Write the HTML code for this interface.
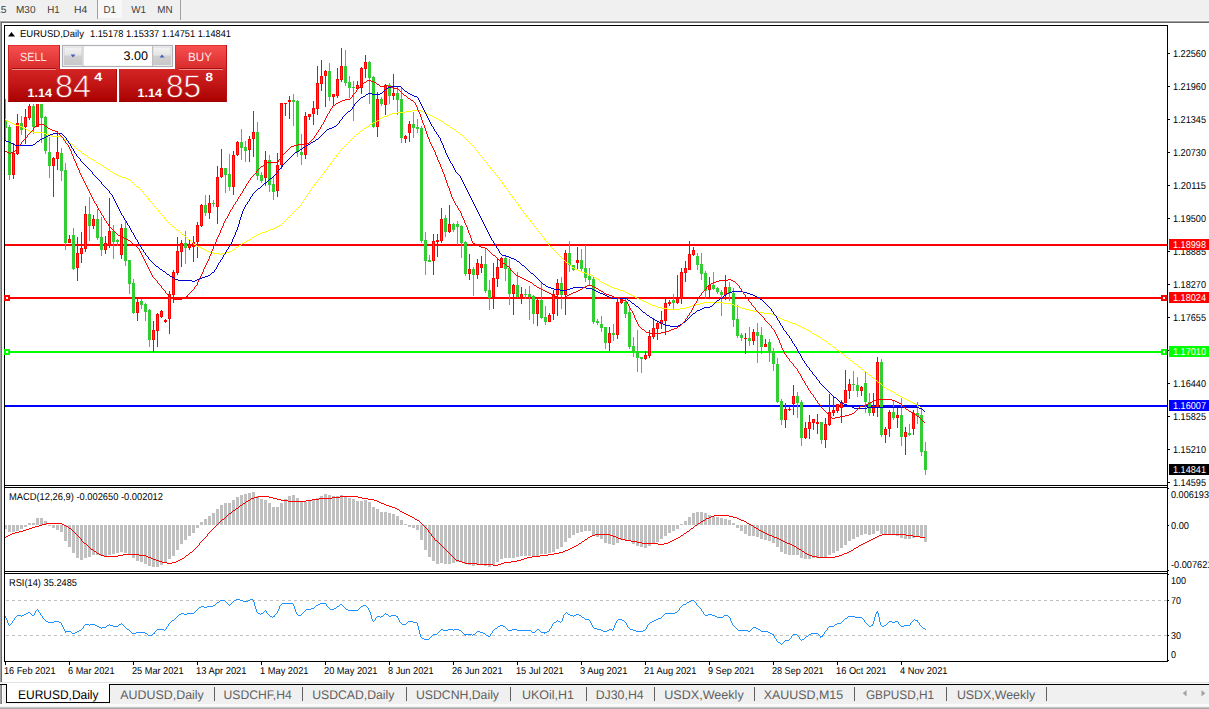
<!DOCTYPE html>
<html lang="en"><head><meta charset="utf-8"><title>EURUSD,Daily</title>
<style>
html,body{margin:0;padding:0;background:#fff;overflow:hidden}
#app{position:absolute;left:0;top:0;width:1209px;height:709px;overflow:hidden}
svg{display:block}
text{font-family:"Liberation Sans",sans-serif;white-space:pre;text-rendering:geometricPrecision}
</style></head><body>
<div id="app">
<svg width="1209" height="709" viewBox="0 0 1209 709">
<rect x="0" y="0" width="1209" height="709" fill="#fff" />
<rect x="0" y="0" width="1209" height="20" fill="#f0f0f0" />
<rect x="0" y="20" width="1209" height="1" fill="#f8f8f8" />
<rect x="0" y="21" width="1209" height="1" fill="#a0a0a0" />
<rect x="1" y="22" width="1209" height="1" fill="#696969" />
<rect x="0" y="21" width="1" height="662" fill="#a0a0a0" />
<rect x="1" y="22" width="1" height="661" fill="#696969" />
<rect x="98" y="0" width="24" height="18" fill="#f8f8f8" />
<rect x="97" y="0" width="1" height="19" fill="#a0a0a0" />
<rect x="180" y="0" width="1" height="20" fill="#a0a0a0" />
<text x="-5" y="13.4" font-size="10.2" fill="#404040" textLength="11.5" lengthAdjust="spacingAndGlyphs" >15</text>
<text x="16" y="13.4" font-size="10.2" fill="#404040" textLength="19.5" lengthAdjust="spacingAndGlyphs" >M30</text>
<text x="47.3" y="13.4" font-size="10.2" fill="#404040" textLength="12.5" lengthAdjust="spacingAndGlyphs" >H1</text>
<text x="74" y="13.4" font-size="10.2" fill="#404040" textLength="13.3" lengthAdjust="spacingAndGlyphs" >H4</text>
<text x="103.4" y="13.4" font-size="10.2" fill="#404040" textLength="12.5" lengthAdjust="spacingAndGlyphs" >D1</text>
<text x="131.3" y="13.4" font-size="10.2" fill="#404040" textLength="14.8" lengthAdjust="spacingAndGlyphs" >W1</text>
<text x="157.2" y="13.4" font-size="10.2" fill="#404040" textLength="15.3" lengthAdjust="spacingAndGlyphs" >MN</text>
<rect x="0" y="682" width="1209" height="1" fill="#e3e3e3" />
<rect x="0" y="683" width="1209" height="1" fill="#fafafa" />
<rect x="0" y="684" width="1209" height="20" fill="#f0f0f0" />
<rect x="0" y="684" width="1209" height="1" fill="#000" />
<rect x="0" y="685" width="1" height="19" fill="#a0a0a0" />
<rect x="1" y="685" width="1" height="19" fill="#808080" />
<rect x="2" y="685" width="1" height="19" fill="#fff" />
<rect x="0" y="704" width="1209" height="2" fill="#fbfbfb" />
<rect x="0" y="706" width="1209" height="1" fill="#f0f0f0" />
<rect x="0" y="707" width="1209" height="1" fill="#c8c8c8" />
<rect x="0" y="708" width="1209" height="1" fill="#a8a8a8" />
<rect x="6" y="684" width="104" height="19" fill="#000" />
<rect x="7" y="683" width="102" height="19" fill="#fff" />
<text x="18" y="698.6" font-size="12.5" fill="#000" textLength="80.5" lengthAdjust="spacingAndGlyphs" >EURUSD,Daily</text>
<text x="120.3" y="698.6" font-size="12.5" fill="#606060" textLength="83.5" lengthAdjust="spacingAndGlyphs" >AUDUSD,Daily</text>
<text x="223.5" y="698.6" font-size="12.5" fill="#606060" textLength="68.2" lengthAdjust="spacingAndGlyphs" >USDCHF,H4</text>
<text x="312.2" y="698.6" font-size="12.5" fill="#606060" textLength="82.2" lengthAdjust="spacingAndGlyphs" >USDCAD,Daily</text>
<text x="416" y="698.6" font-size="12.5" fill="#606060" textLength="83" lengthAdjust="spacingAndGlyphs" >USDCNH,Daily</text>
<text x="521.9" y="698.6" font-size="12.5" fill="#606060" textLength="52" lengthAdjust="spacingAndGlyphs" >UKOil,H1</text>
<text x="595.7" y="698.6" font-size="12.5" fill="#606060" textLength="48" lengthAdjust="spacingAndGlyphs" >DJ30,H4</text>
<text x="664.2" y="698.6" font-size="12.5" fill="#606060" textLength="79.5" lengthAdjust="spacingAndGlyphs" >USDX,Weekly</text>
<text x="763.7" y="698.6" font-size="12.5" fill="#606060" textLength="79.5" lengthAdjust="spacingAndGlyphs" >XAUUSD,M15</text>
<text x="865.9" y="698.6" font-size="12.5" fill="#606060" textLength="68.2" lengthAdjust="spacingAndGlyphs" >GBPUSD,H1</text>
<text x="956.9" y="698.6" font-size="12.5" fill="#606060" textLength="78.2" lengthAdjust="spacingAndGlyphs" >USDX,Weekly</text>
<rect x="214" y="687" width="1" height="14" fill="#606060" />
<rect x="302" y="687" width="1" height="14" fill="#606060" />
<rect x="406" y="687" width="1" height="14" fill="#606060" />
<rect x="510" y="687" width="1" height="14" fill="#606060" />
<rect x="586" y="687" width="1" height="14" fill="#606060" />
<rect x="654" y="687" width="1" height="14" fill="#606060" />
<rect x="754" y="687" width="1" height="14" fill="#606060" />
<rect x="854" y="687" width="1" height="14" fill="#606060" />
<rect x="946" y="687" width="1" height="14" fill="#606060" />
<rect x="1046" y="687" width="1" height="14" fill="#606060" />
<path d="M1186.5 690 L1186.5 696.5 L1182.8 693.2 Z" fill="#a0a0a0"/>
<path d="M1201.5 690 L1201.5 696.5 L1205.2 693.2 Z" fill="#a0a0a0"/>
<g shape-rendering="crispEdges">
<rect x="5" y="244" width="1162" height="2" fill="#ff0000" />
<rect x="5" y="297" width="1162" height="2" fill="#ff0000" />
<rect x="5" y="351" width="1162" height="2" fill="#00ff00" />
<rect x="5" y="405" width="1162" height="2" fill="#0000ff" />
<rect x="5" y="99" width="1" height="42" fill="#32cd32" />
<rect x="4" y="120" width="3" height="8" fill="#32cd32" />
<rect x="9" y="125" width="1" height="55" fill="#32cd32" />
<rect x="8" y="127" width="3" height="48" fill="#32cd32" />
<rect x="13" y="143" width="1" height="36" fill="#ff0000" />
<rect x="12" y="153" width="3" height="22" fill="#ff0000" />
<rect x="13" y="154" width="1" height="20" fill="#ff4500" />
<rect x="17" y="114" width="1" height="41" fill="#ff0000" />
<rect x="16" y="123" width="3" height="31" fill="#ff0000" />
<rect x="17" y="124" width="1" height="29" fill="#ff4500" />
<rect x="21" y="116" width="1" height="19" fill="#32cd32" />
<rect x="20" y="123" width="3" height="7" fill="#32cd32" />
<rect x="25" y="109" width="1" height="35" fill="#ff0000" />
<rect x="24" y="117" width="3" height="10" fill="#ff0000" />
<rect x="25" y="118" width="1" height="8" fill="#ff4500" />
<rect x="29" y="104" width="1" height="16" fill="#ff0000" />
<rect x="28" y="106" width="3" height="12" fill="#ff0000" />
<rect x="29" y="107" width="1" height="10" fill="#ff4500" />
<rect x="33" y="104" width="1" height="30" fill="#32cd32" />
<rect x="32" y="106" width="3" height="21" fill="#32cd32" />
<rect x="37" y="88" width="1" height="39" fill="#ff0000" />
<rect x="36" y="92" width="3" height="35" fill="#ff0000" />
<rect x="37" y="93" width="1" height="33" fill="#ff4500" />
<rect x="41" y="90" width="1" height="53" fill="#32cd32" />
<rect x="40" y="93" width="3" height="25" fill="#32cd32" />
<rect x="45" y="116" width="1" height="38" fill="#32cd32" />
<rect x="44" y="117" width="3" height="34" fill="#32cd32" />
<rect x="49" y="137" width="1" height="41" fill="#32cd32" />
<rect x="48" y="152" width="3" height="14" fill="#32cd32" />
<rect x="53" y="157" width="1" height="40" fill="#ff0000" />
<rect x="52" y="158" width="3" height="8" fill="#ff0000" />
<rect x="53" y="159" width="1" height="6" fill="#ff4500" />
<rect x="57" y="131" width="1" height="39" fill="#ff0000" />
<rect x="56" y="152" width="3" height="7" fill="#ff0000" />
<rect x="57" y="153" width="1" height="5" fill="#ff4500" />
<rect x="61" y="148" width="1" height="33" fill="#32cd32" />
<rect x="60" y="153" width="3" height="18" fill="#32cd32" />
<rect x="65" y="163" width="1" height="87" fill="#32cd32" />
<rect x="64" y="170" width="3" height="73" fill="#32cd32" />
<rect x="69" y="235" width="1" height="8" fill="#ff0000" />
<rect x="68" y="239" width="3" height="4" fill="#ff0000" />
<rect x="69" y="240" width="1" height="2" fill="#ff4500" />
<rect x="73" y="228" width="1" height="42" fill="#32cd32" />
<rect x="72" y="235" width="3" height="34" fill="#32cd32" />
<rect x="77" y="237" width="1" height="44" fill="#ff0000" />
<rect x="76" y="253" width="3" height="15" fill="#ff0000" />
<rect x="77" y="254" width="1" height="13" fill="#ff4500" />
<rect x="81" y="232" width="1" height="31" fill="#ff0000" />
<rect x="80" y="248" width="3" height="6" fill="#ff0000" />
<rect x="81" y="249" width="1" height="4" fill="#ff4500" />
<rect x="85" y="206" width="1" height="46" fill="#ff0000" />
<rect x="84" y="214" width="3" height="35" fill="#ff0000" />
<rect x="85" y="215" width="1" height="33" fill="#ff4500" />
<rect x="89" y="197" width="1" height="44" fill="#32cd32" />
<rect x="88" y="214" width="3" height="12" fill="#32cd32" />
<rect x="93" y="215" width="1" height="14" fill="#ff0000" />
<rect x="92" y="219" width="3" height="7" fill="#ff0000" />
<rect x="93" y="220" width="1" height="5" fill="#ff4500" />
<rect x="97" y="209" width="1" height="31" fill="#32cd32" />
<rect x="96" y="219" width="3" height="19" fill="#32cd32" />
<rect x="101" y="217" width="1" height="39" fill="#32cd32" />
<rect x="100" y="237" width="3" height="13" fill="#32cd32" />
<rect x="105" y="236" width="1" height="18" fill="#ff0000" />
<rect x="104" y="243" width="3" height="7" fill="#ff0000" />
<rect x="105" y="244" width="1" height="5" fill="#ff4500" />
<rect x="109" y="198" width="1" height="50" fill="#ff0000" />
<rect x="108" y="231" width="3" height="15" fill="#ff0000" />
<rect x="109" y="232" width="1" height="13" fill="#ff4500" />
<rect x="113" y="225" width="1" height="34" fill="#32cd32" />
<rect x="112" y="231" width="3" height="11" fill="#32cd32" />
<rect x="117" y="239" width="1" height="7" fill="#32cd32" />
<rect x="116" y="240" width="3" height="2" fill="#32cd32" />
<rect x="121" y="224" width="1" height="35" fill="#ff0000" />
<rect x="120" y="228" width="3" height="27" fill="#ff0000" />
<rect x="121" y="229" width="1" height="25" fill="#ff4500" />
<rect x="125" y="220" width="1" height="46" fill="#32cd32" />
<rect x="124" y="228" width="3" height="33" fill="#32cd32" />
<rect x="129" y="260" width="1" height="34" fill="#32cd32" />
<rect x="128" y="260" width="3" height="24" fill="#32cd32" />
<rect x="133" y="279" width="1" height="35" fill="#32cd32" />
<rect x="132" y="283" width="3" height="30" fill="#32cd32" />
<rect x="137" y="299" width="1" height="22" fill="#ff0000" />
<rect x="136" y="302" width="3" height="11" fill="#ff0000" />
<rect x="137" y="303" width="1" height="9" fill="#ff4500" />
<rect x="141" y="299" width="1" height="10" fill="#32cd32" />
<rect x="140" y="301" width="3" height="4" fill="#32cd32" />
<rect x="145" y="303" width="1" height="18" fill="#32cd32" />
<rect x="144" y="304" width="3" height="8" fill="#32cd32" />
<rect x="149" y="309" width="1" height="38" fill="#32cd32" />
<rect x="148" y="310" width="3" height="30" fill="#32cd32" />
<rect x="153" y="321" width="1" height="31" fill="#ff0000" />
<rect x="152" y="330" width="3" height="10" fill="#ff0000" />
<rect x="153" y="331" width="1" height="8" fill="#ff4500" />
<rect x="157" y="313" width="1" height="34" fill="#ff0000" />
<rect x="156" y="314" width="3" height="17" fill="#ff0000" />
<rect x="157" y="315" width="1" height="15" fill="#ff4500" />
<rect x="161" y="310" width="1" height="8" fill="#ff0000" />
<rect x="160" y="311" width="3" height="6" fill="#ff0000" />
<rect x="161" y="312" width="1" height="4" fill="#ff4500" />
<rect x="165" y="319" width="1" height="4" fill="#ff0000" />
<rect x="164" y="320" width="3" height="2" fill="#ff0000" />
<rect x="169" y="291" width="1" height="43" fill="#ff0000" />
<rect x="168" y="294" width="3" height="25" fill="#ff0000" />
<rect x="169" y="295" width="1" height="23" fill="#ff4500" />
<rect x="173" y="270" width="1" height="33" fill="#ff0000" />
<rect x="172" y="272" width="3" height="23" fill="#ff0000" />
<rect x="173" y="273" width="1" height="21" fill="#ff4500" />
<rect x="177" y="237" width="1" height="38" fill="#ff0000" />
<rect x="176" y="251" width="3" height="22" fill="#ff0000" />
<rect x="177" y="252" width="1" height="20" fill="#ff4500" />
<rect x="181" y="240" width="1" height="27" fill="#ff0000" />
<rect x="180" y="243" width="3" height="9" fill="#ff0000" />
<rect x="181" y="244" width="1" height="7" fill="#ff4500" />
<rect x="185" y="231" width="1" height="33" fill="#32cd32" />
<rect x="184" y="243" width="3" height="5" fill="#32cd32" />
<rect x="189" y="240" width="1" height="10" fill="#ff0000" />
<rect x="188" y="244" width="3" height="4" fill="#ff0000" />
<rect x="189" y="245" width="1" height="2" fill="#ff4500" />
<rect x="193" y="236" width="1" height="26" fill="#ff0000" />
<rect x="192" y="242" width="3" height="5" fill="#ff0000" />
<rect x="193" y="243" width="1" height="3" fill="#ff4500" />
<rect x="197" y="222" width="1" height="36" fill="#ff0000" />
<rect x="196" y="225" width="3" height="17" fill="#ff0000" />
<rect x="197" y="226" width="1" height="15" fill="#ff4500" />
<rect x="201" y="204" width="1" height="23" fill="#ff0000" />
<rect x="200" y="205" width="3" height="21" fill="#ff0000" />
<rect x="201" y="206" width="1" height="19" fill="#ff4500" />
<rect x="205" y="195" width="1" height="21" fill="#32cd32" />
<rect x="204" y="205" width="3" height="8" fill="#32cd32" />
<rect x="209" y="195" width="1" height="24" fill="#ff0000" />
<rect x="208" y="203" width="3" height="10" fill="#ff0000" />
<rect x="209" y="204" width="1" height="8" fill="#ff4500" />
<rect x="213" y="200" width="1" height="7" fill="#32cd32" />
<rect x="212" y="203" width="3" height="1" fill="#32cd32" />
<rect x="217" y="166" width="1" height="58" fill="#ff0000" />
<rect x="216" y="177" width="3" height="30" fill="#ff0000" />
<rect x="217" y="178" width="1" height="28" fill="#ff4500" />
<rect x="221" y="149" width="1" height="29" fill="#ff0000" />
<rect x="220" y="168" width="3" height="9" fill="#ff0000" />
<rect x="221" y="169" width="1" height="7" fill="#ff4500" />
<rect x="225" y="168" width="1" height="25" fill="#32cd32" />
<rect x="224" y="168" width="3" height="7" fill="#32cd32" />
<rect x="229" y="154" width="1" height="37" fill="#32cd32" />
<rect x="228" y="174" width="3" height="13" fill="#32cd32" />
<rect x="233" y="151" width="1" height="44" fill="#ff0000" />
<rect x="232" y="155" width="3" height="32" fill="#ff0000" />
<rect x="233" y="156" width="1" height="30" fill="#ff4500" />
<rect x="237" y="141" width="1" height="15" fill="#ff0000" />
<rect x="236" y="142" width="3" height="13" fill="#ff0000" />
<rect x="237" y="143" width="1" height="11" fill="#ff4500" />
<rect x="241" y="129" width="1" height="31" fill="#32cd32" />
<rect x="240" y="142" width="3" height="6" fill="#32cd32" />
<rect x="245" y="141" width="1" height="21" fill="#32cd32" />
<rect x="244" y="147" width="3" height="4" fill="#32cd32" />
<rect x="249" y="136" width="1" height="26" fill="#ff0000" />
<rect x="248" y="139" width="3" height="11" fill="#ff0000" />
<rect x="249" y="140" width="1" height="9" fill="#ff4500" />
<rect x="253" y="111" width="1" height="46" fill="#ff0000" />
<rect x="252" y="132" width="3" height="7" fill="#ff0000" />
<rect x="253" y="133" width="1" height="5" fill="#ff4500" />
<rect x="257" y="122" width="1" height="58" fill="#32cd32" />
<rect x="256" y="132" width="3" height="44" fill="#32cd32" />
<rect x="261" y="172" width="1" height="11" fill="#32cd32" />
<rect x="260" y="175" width="3" height="6" fill="#32cd32" />
<rect x="265" y="151" width="1" height="35" fill="#ff0000" />
<rect x="264" y="160" width="3" height="18" fill="#ff0000" />
<rect x="265" y="161" width="1" height="16" fill="#ff4500" />
<rect x="269" y="155" width="1" height="37" fill="#32cd32" />
<rect x="268" y="160" width="3" height="25" fill="#32cd32" />
<rect x="273" y="177" width="1" height="23" fill="#32cd32" />
<rect x="272" y="184" width="3" height="8" fill="#32cd32" />
<rect x="277" y="153" width="1" height="44" fill="#ff0000" />
<rect x="276" y="165" width="3" height="26" fill="#ff0000" />
<rect x="277" y="166" width="1" height="24" fill="#ff4500" />
<rect x="281" y="103" width="1" height="66" fill="#ff0000" />
<rect x="280" y="103" width="3" height="62" fill="#ff0000" />
<rect x="281" y="104" width="1" height="60" fill="#ff4500" />
<rect x="285" y="103" width="1" height="13" fill="#ff0000" />
<rect x="284" y="103" width="3" height="1" fill="#ff0000" />
<rect x="289" y="96" width="1" height="23" fill="#ff0000" />
<rect x="288" y="100" width="3" height="2" fill="#ff0000" />
<rect x="293" y="94" width="1" height="32" fill="#32cd32" />
<rect x="292" y="100" width="3" height="2" fill="#32cd32" />
<rect x="297" y="100" width="1" height="57" fill="#32cd32" />
<rect x="296" y="101" width="3" height="51" fill="#32cd32" />
<rect x="301" y="134" width="1" height="31" fill="#32cd32" />
<rect x="300" y="152" width="3" height="3" fill="#32cd32" />
<rect x="305" y="112" width="1" height="47" fill="#ff0000" />
<rect x="304" y="116" width="3" height="39" fill="#ff0000" />
<rect x="305" y="117" width="1" height="37" fill="#ff4500" />
<rect x="309" y="114" width="1" height="6" fill="#ff0000" />
<rect x="308" y="114" width="3" height="3" fill="#ff0000" />
<rect x="309" y="115" width="1" height="1" fill="#ff4500" />
<rect x="313" y="101" width="1" height="24" fill="#ff0000" />
<rect x="312" y="108" width="3" height="6" fill="#ff0000" />
<rect x="313" y="109" width="1" height="4" fill="#ff4500" />
<rect x="317" y="66" width="1" height="49" fill="#ff0000" />
<rect x="316" y="83" width="3" height="26" fill="#ff0000" />
<rect x="317" y="84" width="1" height="24" fill="#ff4500" />
<rect x="321" y="60" width="1" height="31" fill="#ff0000" />
<rect x="320" y="76" width="3" height="8" fill="#ff0000" />
<rect x="321" y="77" width="1" height="6" fill="#ff4500" />
<rect x="325" y="70" width="1" height="37" fill="#ff0000" />
<rect x="324" y="71" width="3" height="5" fill="#ff0000" />
<rect x="325" y="72" width="1" height="3" fill="#ff4500" />
<rect x="329" y="63" width="1" height="38" fill="#32cd32" />
<rect x="328" y="71" width="3" height="26" fill="#32cd32" />
<rect x="333" y="94" width="1" height="11" fill="#ff0000" />
<rect x="332" y="94" width="3" height="3" fill="#ff0000" />
<rect x="333" y="95" width="1" height="1" fill="#ff4500" />
<rect x="337" y="68" width="1" height="30" fill="#ff0000" />
<rect x="336" y="79" width="3" height="17" fill="#ff0000" />
<rect x="337" y="80" width="1" height="15" fill="#ff4500" />
<rect x="341" y="48" width="1" height="34" fill="#ff0000" />
<rect x="340" y="66" width="3" height="14" fill="#ff0000" />
<rect x="341" y="67" width="1" height="12" fill="#ff4500" />
<rect x="345" y="50" width="1" height="36" fill="#32cd32" />
<rect x="344" y="66" width="3" height="17" fill="#32cd32" />
<rect x="349" y="76" width="1" height="22" fill="#32cd32" />
<rect x="348" y="82" width="3" height="6" fill="#32cd32" />
<rect x="353" y="81" width="1" height="40" fill="#32cd32" />
<rect x="352" y="87" width="3" height="1" fill="#32cd32" />
<rect x="357" y="81" width="1" height="8" fill="#ff0000" />
<rect x="356" y="85" width="3" height="4" fill="#ff0000" />
<rect x="357" y="86" width="1" height="2" fill="#ff4500" />
<rect x="361" y="67" width="1" height="27" fill="#ff0000" />
<rect x="360" y="68" width="3" height="20" fill="#ff0000" />
<rect x="361" y="69" width="1" height="18" fill="#ff4500" />
<rect x="365" y="55" width="1" height="23" fill="#ff0000" />
<rect x="364" y="62" width="3" height="7" fill="#ff0000" />
<rect x="365" y="63" width="1" height="5" fill="#ff4500" />
<rect x="369" y="61" width="1" height="43" fill="#32cd32" />
<rect x="368" y="62" width="3" height="16" fill="#32cd32" />
<rect x="373" y="76" width="1" height="52" fill="#32cd32" />
<rect x="372" y="77" width="3" height="50" fill="#32cd32" />
<rect x="377" y="92" width="1" height="45" fill="#ff0000" />
<rect x="376" y="99" width="3" height="28" fill="#ff0000" />
<rect x="377" y="100" width="1" height="26" fill="#ff4500" />
<rect x="381" y="97" width="1" height="9" fill="#32cd32" />
<rect x="380" y="99" width="3" height="5" fill="#32cd32" />
<rect x="385" y="84" width="1" height="31" fill="#ff0000" />
<rect x="384" y="85" width="3" height="20" fill="#ff0000" />
<rect x="385" y="86" width="1" height="18" fill="#ff4500" />
<rect x="389" y="83" width="1" height="21" fill="#32cd32" />
<rect x="388" y="85" width="3" height="11" fill="#32cd32" />
<rect x="393" y="74" width="1" height="26" fill="#ff0000" />
<rect x="392" y="93" width="3" height="3" fill="#ff0000" />
<rect x="393" y="94" width="1" height="1" fill="#ff4500" />
<rect x="397" y="87" width="1" height="28" fill="#32cd32" />
<rect x="396" y="93" width="3" height="7" fill="#32cd32" />
<rect x="401" y="88" width="1" height="55" fill="#32cd32" />
<rect x="400" y="99" width="3" height="39" fill="#32cd32" />
<rect x="405" y="135" width="1" height="8" fill="#ff0000" />
<rect x="404" y="136" width="3" height="3" fill="#ff0000" />
<rect x="405" y="137" width="1" height="1" fill="#ff4500" />
<rect x="409" y="121" width="1" height="21" fill="#ff0000" />
<rect x="408" y="124" width="3" height="9" fill="#ff0000" />
<rect x="409" y="125" width="1" height="7" fill="#ff4500" />
<rect x="413" y="112" width="1" height="26" fill="#32cd32" />
<rect x="412" y="124" width="3" height="4" fill="#32cd32" />
<rect x="417" y="119" width="1" height="14" fill="#32cd32" />
<rect x="416" y="127" width="3" height="2" fill="#32cd32" />
<rect x="421" y="126" width="1" height="117" fill="#32cd32" />
<rect x="420" y="128" width="3" height="113" fill="#32cd32" />
<rect x="425" y="232" width="1" height="43" fill="#32cd32" />
<rect x="424" y="240" width="3" height="21" fill="#32cd32" />
<rect x="429" y="255" width="1" height="7" fill="#32cd32" />
<rect x="428" y="260" width="3" height="2" fill="#32cd32" />
<rect x="433" y="234" width="1" height="41" fill="#ff0000" />
<rect x="432" y="241" width="3" height="20" fill="#ff0000" />
<rect x="433" y="242" width="1" height="18" fill="#ff4500" />
<rect x="437" y="234" width="1" height="23" fill="#ff0000" />
<rect x="436" y="240" width="3" height="2" fill="#ff0000" />
<rect x="441" y="208" width="1" height="35" fill="#ff0000" />
<rect x="440" y="219" width="3" height="22" fill="#ff0000" />
<rect x="441" y="220" width="1" height="20" fill="#ff4500" />
<rect x="445" y="215" width="1" height="22" fill="#32cd32" />
<rect x="444" y="218" width="3" height="14" fill="#32cd32" />
<rect x="449" y="205" width="1" height="28" fill="#ff0000" />
<rect x="448" y="224" width="3" height="8" fill="#ff0000" />
<rect x="449" y="225" width="1" height="6" fill="#ff4500" />
<rect x="453" y="223" width="1" height="9" fill="#32cd32" />
<rect x="452" y="224" width="3" height="6" fill="#32cd32" />
<rect x="457" y="221" width="1" height="24" fill="#32cd32" />
<rect x="456" y="224" width="3" height="3" fill="#32cd32" />
<rect x="461" y="225" width="1" height="33" fill="#32cd32" />
<rect x="460" y="226" width="3" height="17" fill="#32cd32" />
<rect x="465" y="241" width="1" height="35" fill="#32cd32" />
<rect x="464" y="242" width="3" height="32" fill="#32cd32" />
<rect x="469" y="254" width="1" height="26" fill="#ff0000" />
<rect x="468" y="269" width="3" height="5" fill="#ff0000" />
<rect x="469" y="270" width="1" height="3" fill="#ff4500" />
<rect x="473" y="267" width="1" height="29" fill="#32cd32" />
<rect x="472" y="269" width="3" height="6" fill="#32cd32" />
<rect x="477" y="259" width="1" height="20" fill="#ff0000" />
<rect x="476" y="263" width="3" height="12" fill="#ff0000" />
<rect x="477" y="264" width="1" height="10" fill="#ff4500" />
<rect x="481" y="256" width="1" height="17" fill="#ff0000" />
<rect x="480" y="264" width="3" height="4" fill="#ff0000" />
<rect x="481" y="265" width="1" height="2" fill="#ff4500" />
<rect x="485" y="248" width="1" height="45" fill="#32cd32" />
<rect x="484" y="264" width="3" height="27" fill="#32cd32" />
<rect x="489" y="280" width="1" height="30" fill="#32cd32" />
<rect x="488" y="290" width="3" height="8" fill="#32cd32" />
<rect x="493" y="263" width="1" height="46" fill="#ff0000" />
<rect x="492" y="278" width="3" height="19" fill="#ff0000" />
<rect x="493" y="279" width="1" height="17" fill="#ff4500" />
<rect x="497" y="259" width="1" height="28" fill="#ff0000" />
<rect x="496" y="267" width="3" height="12" fill="#ff0000" />
<rect x="497" y="268" width="1" height="10" fill="#ff4500" />
<rect x="501" y="257" width="1" height="11" fill="#ff0000" />
<rect x="500" y="258" width="3" height="10" fill="#ff0000" />
<rect x="501" y="259" width="1" height="8" fill="#ff4500" />
<rect x="505" y="256" width="1" height="25" fill="#32cd32" />
<rect x="504" y="258" width="3" height="11" fill="#32cd32" />
<rect x="509" y="259" width="1" height="46" fill="#32cd32" />
<rect x="508" y="268" width="3" height="26" fill="#32cd32" />
<rect x="513" y="284" width="1" height="31" fill="#ff0000" />
<rect x="512" y="285" width="3" height="9" fill="#ff0000" />
<rect x="513" y="286" width="1" height="7" fill="#ff4500" />
<rect x="517" y="272" width="1" height="26" fill="#32cd32" />
<rect x="516" y="285" width="3" height="12" fill="#32cd32" />
<rect x="521" y="287" width="1" height="17" fill="#ff0000" />
<rect x="520" y="294" width="3" height="4" fill="#ff0000" />
<rect x="521" y="295" width="1" height="2" fill="#ff4500" />
<rect x="525" y="289" width="1" height="10" fill="#32cd32" />
<rect x="524" y="294" width="3" height="1" fill="#32cd32" />
<rect x="529" y="286" width="1" height="34" fill="#32cd32" />
<rect x="528" y="294" width="3" height="3" fill="#32cd32" />
<rect x="533" y="295" width="1" height="29" fill="#32cd32" />
<rect x="532" y="296" width="3" height="18" fill="#32cd32" />
<rect x="537" y="299" width="1" height="27" fill="#ff0000" />
<rect x="536" y="300" width="3" height="14" fill="#ff0000" />
<rect x="537" y="301" width="1" height="12" fill="#ff4500" />
<rect x="541" y="283" width="1" height="36" fill="#32cd32" />
<rect x="540" y="300" width="3" height="18" fill="#32cd32" />
<rect x="545" y="306" width="1" height="19" fill="#32cd32" />
<rect x="544" y="317" width="3" height="5" fill="#32cd32" />
<rect x="549" y="313" width="1" height="9" fill="#ff0000" />
<rect x="548" y="315" width="3" height="7" fill="#ff0000" />
<rect x="549" y="316" width="1" height="5" fill="#ff4500" />
<rect x="553" y="290" width="1" height="30" fill="#ff0000" />
<rect x="552" y="294" width="3" height="20" fill="#ff0000" />
<rect x="553" y="295" width="1" height="18" fill="#ff4500" />
<rect x="557" y="279" width="1" height="37" fill="#ff0000" />
<rect x="556" y="283" width="3" height="12" fill="#ff0000" />
<rect x="557" y="284" width="1" height="10" fill="#ff4500" />
<rect x="561" y="277" width="1" height="32" fill="#32cd32" />
<rect x="560" y="283" width="3" height="12" fill="#32cd32" />
<rect x="565" y="250" width="1" height="65" fill="#ff0000" />
<rect x="564" y="253" width="3" height="42" fill="#ff0000" />
<rect x="565" y="254" width="1" height="40" fill="#ff4500" />
<rect x="569" y="241" width="1" height="31" fill="#32cd32" />
<rect x="568" y="253" width="3" height="12" fill="#32cd32" />
<rect x="573" y="265" width="1" height="6" fill="#32cd32" />
<rect x="572" y="265" width="3" height="5" fill="#32cd32" />
<rect x="577" y="247" width="1" height="22" fill="#ff0000" />
<rect x="576" y="260" width="3" height="3" fill="#ff0000" />
<rect x="577" y="261" width="1" height="1" fill="#ff4500" />
<rect x="581" y="249" width="1" height="22" fill="#32cd32" />
<rect x="580" y="260" width="3" height="9" fill="#32cd32" />
<rect x="585" y="245" width="1" height="37" fill="#32cd32" />
<rect x="584" y="268" width="3" height="10" fill="#32cd32" />
<rect x="589" y="268" width="1" height="17" fill="#32cd32" />
<rect x="588" y="276" width="3" height="4" fill="#32cd32" />
<rect x="593" y="277" width="1" height="47" fill="#32cd32" />
<rect x="592" y="279" width="3" height="43" fill="#32cd32" />
<rect x="597" y="319" width="1" height="6" fill="#32cd32" />
<rect x="596" y="321" width="3" height="2" fill="#32cd32" />
<rect x="601" y="316" width="1" height="16" fill="#32cd32" />
<rect x="600" y="324" width="3" height="4" fill="#32cd32" />
<rect x="605" y="327" width="1" height="22" fill="#32cd32" />
<rect x="604" y="327" width="3" height="16" fill="#32cd32" />
<rect x="609" y="327" width="1" height="24" fill="#ff0000" />
<rect x="608" y="333" width="3" height="10" fill="#ff0000" />
<rect x="609" y="334" width="1" height="8" fill="#ff4500" />
<rect x="613" y="324" width="1" height="17" fill="#32cd32" />
<rect x="612" y="333" width="3" height="2" fill="#32cd32" />
<rect x="617" y="299" width="1" height="40" fill="#ff0000" />
<rect x="616" y="302" width="3" height="33" fill="#ff0000" />
<rect x="617" y="303" width="1" height="31" fill="#ff4500" />
<rect x="621" y="299" width="1" height="5" fill="#ff0000" />
<rect x="620" y="300" width="3" height="3" fill="#ff0000" />
<rect x="621" y="301" width="1" height="1" fill="#ff4500" />
<rect x="625" y="299" width="1" height="19" fill="#32cd32" />
<rect x="624" y="302" width="3" height="12" fill="#32cd32" />
<rect x="629" y="307" width="1" height="42" fill="#32cd32" />
<rect x="628" y="312" width="3" height="35" fill="#32cd32" />
<rect x="633" y="337" width="1" height="20" fill="#32cd32" />
<rect x="632" y="346" width="3" height="6" fill="#32cd32" />
<rect x="637" y="330" width="1" height="42" fill="#32cd32" />
<rect x="636" y="352" width="3" height="6" fill="#32cd32" />
<rect x="641" y="357" width="1" height="16" fill="#32cd32" />
<rect x="640" y="357" width="3" height="2" fill="#32cd32" />
<rect x="645" y="351" width="1" height="9" fill="#ff0000" />
<rect x="644" y="355" width="3" height="4" fill="#ff0000" />
<rect x="645" y="356" width="1" height="2" fill="#ff4500" />
<rect x="649" y="330" width="1" height="28" fill="#ff0000" />
<rect x="648" y="336" width="3" height="20" fill="#ff0000" />
<rect x="649" y="337" width="1" height="18" fill="#ff4500" />
<rect x="653" y="318" width="1" height="21" fill="#ff0000" />
<rect x="652" y="328" width="3" height="9" fill="#ff0000" />
<rect x="653" y="329" width="1" height="7" fill="#ff4500" />
<rect x="657" y="321" width="1" height="19" fill="#ff0000" />
<rect x="656" y="323" width="3" height="6" fill="#ff0000" />
<rect x="657" y="324" width="1" height="4" fill="#ff4500" />
<rect x="661" y="311" width="1" height="18" fill="#ff0000" />
<rect x="660" y="320" width="3" height="4" fill="#ff0000" />
<rect x="661" y="321" width="1" height="2" fill="#ff4500" />
<rect x="665" y="299" width="1" height="36" fill="#ff0000" />
<rect x="664" y="303" width="3" height="18" fill="#ff0000" />
<rect x="665" y="304" width="1" height="16" fill="#ff4500" />
<rect x="669" y="300" width="1" height="6" fill="#ff0000" />
<rect x="668" y="302" width="3" height="2" fill="#ff0000" />
<rect x="673" y="294" width="1" height="15" fill="#32cd32" />
<rect x="672" y="300" width="3" height="3" fill="#32cd32" />
<rect x="677" y="275" width="1" height="29" fill="#ff0000" />
<rect x="676" y="298" width="3" height="5" fill="#ff0000" />
<rect x="677" y="299" width="1" height="3" fill="#ff4500" />
<rect x="681" y="268" width="1" height="36" fill="#ff0000" />
<rect x="680" y="272" width="3" height="27" fill="#ff0000" />
<rect x="681" y="273" width="1" height="25" fill="#ff4500" />
<rect x="685" y="261" width="1" height="21" fill="#ff0000" />
<rect x="684" y="268" width="3" height="5" fill="#ff0000" />
<rect x="685" y="269" width="1" height="3" fill="#ff4500" />
<rect x="689" y="241" width="1" height="29" fill="#ff0000" />
<rect x="688" y="254" width="3" height="16" fill="#ff0000" />
<rect x="689" y="255" width="1" height="14" fill="#ff4500" />
<rect x="693" y="247" width="1" height="9" fill="#ff0000" />
<rect x="692" y="250" width="3" height="5" fill="#ff0000" />
<rect x="693" y="251" width="1" height="3" fill="#ff4500" />
<rect x="697" y="253" width="1" height="17" fill="#32cd32" />
<rect x="696" y="256" width="3" height="9" fill="#32cd32" />
<rect x="701" y="253" width="1" height="27" fill="#32cd32" />
<rect x="700" y="264" width="3" height="10" fill="#32cd32" />
<rect x="705" y="271" width="1" height="28" fill="#32cd32" />
<rect x="704" y="273" width="3" height="18" fill="#32cd32" />
<rect x="709" y="277" width="1" height="21" fill="#ff0000" />
<rect x="708" y="285" width="3" height="5" fill="#ff0000" />
<rect x="709" y="286" width="1" height="3" fill="#ff4500" />
<rect x="713" y="272" width="1" height="18" fill="#32cd32" />
<rect x="712" y="285" width="3" height="4" fill="#32cd32" />
<rect x="717" y="287" width="1" height="7" fill="#32cd32" />
<rect x="716" y="288" width="3" height="4" fill="#32cd32" />
<rect x="721" y="290" width="1" height="26" fill="#32cd32" />
<rect x="720" y="292" width="3" height="3" fill="#32cd32" />
<rect x="725" y="275" width="1" height="25" fill="#ff0000" />
<rect x="724" y="287" width="3" height="8" fill="#ff0000" />
<rect x="725" y="288" width="1" height="6" fill="#ff4500" />
<rect x="729" y="282" width="1" height="19" fill="#32cd32" />
<rect x="728" y="287" width="3" height="6" fill="#32cd32" />
<rect x="733" y="288" width="1" height="39" fill="#32cd32" />
<rect x="732" y="293" width="3" height="27" fill="#32cd32" />
<rect x="737" y="305" width="1" height="33" fill="#32cd32" />
<rect x="736" y="319" width="3" height="17" fill="#32cd32" />
<rect x="741" y="333" width="1" height="8" fill="#32cd32" />
<rect x="740" y="335" width="3" height="3" fill="#32cd32" />
<rect x="745" y="333" width="1" height="21" fill="#ff0000" />
<rect x="744" y="338" width="3" height="1" fill="#ff0000" />
<rect x="749" y="327" width="1" height="19" fill="#32cd32" />
<rect x="748" y="338" width="3" height="3" fill="#32cd32" />
<rect x="753" y="329" width="1" height="16" fill="#ff0000" />
<rect x="752" y="332" width="3" height="9" fill="#ff0000" />
<rect x="753" y="333" width="1" height="7" fill="#ff4500" />
<rect x="757" y="323" width="1" height="40" fill="#32cd32" />
<rect x="756" y="332" width="3" height="4" fill="#32cd32" />
<rect x="761" y="327" width="1" height="27" fill="#32cd32" />
<rect x="760" y="335" width="3" height="12" fill="#32cd32" />
<rect x="765" y="339" width="1" height="8" fill="#ff0000" />
<rect x="764" y="344" width="3" height="3" fill="#ff0000" />
<rect x="765" y="345" width="1" height="1" fill="#ff4500" />
<rect x="769" y="339" width="1" height="23" fill="#32cd32" />
<rect x="768" y="342" width="3" height="11" fill="#32cd32" />
<rect x="773" y="348" width="1" height="23" fill="#32cd32" />
<rect x="772" y="352" width="3" height="12" fill="#32cd32" />
<rect x="777" y="358" width="1" height="45" fill="#32cd32" />
<rect x="776" y="364" width="3" height="38" fill="#32cd32" />
<rect x="781" y="399" width="1" height="26" fill="#32cd32" />
<rect x="780" y="401" width="3" height="19" fill="#32cd32" />
<rect x="785" y="403" width="1" height="25" fill="#ff0000" />
<rect x="784" y="409" width="3" height="11" fill="#ff0000" />
<rect x="785" y="410" width="1" height="9" fill="#ff4500" />
<rect x="789" y="406" width="1" height="5" fill="#ff0000" />
<rect x="788" y="409" width="3" height="1" fill="#ff0000" />
<rect x="793" y="385" width="1" height="30" fill="#ff0000" />
<rect x="792" y="396" width="3" height="8" fill="#ff0000" />
<rect x="793" y="397" width="1" height="6" fill="#ff4500" />
<rect x="797" y="392" width="1" height="26" fill="#32cd32" />
<rect x="796" y="396" width="3" height="7" fill="#32cd32" />
<rect x="801" y="400" width="1" height="46" fill="#32cd32" />
<rect x="800" y="402" width="3" height="36" fill="#32cd32" />
<rect x="805" y="422" width="1" height="17" fill="#ff0000" />
<rect x="804" y="428" width="3" height="10" fill="#ff0000" />
<rect x="805" y="429" width="1" height="8" fill="#ff4500" />
<rect x="809" y="415" width="1" height="24" fill="#ff0000" />
<rect x="808" y="422" width="3" height="7" fill="#ff0000" />
<rect x="809" y="423" width="1" height="5" fill="#ff4500" />
<rect x="813" y="419" width="1" height="11" fill="#ff0000" />
<rect x="812" y="419" width="3" height="4" fill="#ff0000" />
<rect x="813" y="420" width="1" height="2" fill="#ff4500" />
<rect x="817" y="414" width="1" height="20" fill="#ff0000" />
<rect x="816" y="422" width="3" height="2" fill="#ff0000" />
<rect x="821" y="422" width="1" height="22" fill="#32cd32" />
<rect x="820" y="422" width="3" height="18" fill="#32cd32" />
<rect x="825" y="418" width="1" height="30" fill="#ff0000" />
<rect x="824" y="424" width="3" height="16" fill="#ff0000" />
<rect x="825" y="425" width="1" height="14" fill="#ff4500" />
<rect x="829" y="394" width="1" height="32" fill="#ff0000" />
<rect x="828" y="412" width="3" height="13" fill="#ff0000" />
<rect x="829" y="413" width="1" height="11" fill="#ff4500" />
<rect x="833" y="397" width="1" height="19" fill="#ff0000" />
<rect x="832" y="410" width="3" height="3" fill="#ff0000" />
<rect x="833" y="411" width="1" height="1" fill="#ff4500" />
<rect x="837" y="404" width="1" height="9" fill="#ff0000" />
<rect x="836" y="404" width="3" height="7" fill="#ff0000" />
<rect x="837" y="405" width="1" height="5" fill="#ff4500" />
<rect x="841" y="400" width="1" height="23" fill="#ff0000" />
<rect x="840" y="402" width="3" height="6" fill="#ff0000" />
<rect x="841" y="403" width="1" height="4" fill="#ff4500" />
<rect x="845" y="370" width="1" height="33" fill="#ff0000" />
<rect x="844" y="390" width="3" height="13" fill="#ff0000" />
<rect x="845" y="391" width="1" height="11" fill="#ff4500" />
<rect x="849" y="379" width="1" height="20" fill="#ff0000" />
<rect x="848" y="384" width="3" height="7" fill="#ff0000" />
<rect x="849" y="385" width="1" height="5" fill="#ff4500" />
<rect x="853" y="371" width="1" height="20" fill="#32cd32" />
<rect x="852" y="384" width="3" height="1" fill="#32cd32" />
<rect x="857" y="377" width="1" height="20" fill="#32cd32" />
<rect x="856" y="385" width="3" height="6" fill="#32cd32" />
<rect x="861" y="386" width="1" height="10" fill="#ff0000" />
<rect x="860" y="387" width="3" height="4" fill="#ff0000" />
<rect x="861" y="388" width="1" height="2" fill="#ff4500" />
<rect x="865" y="372" width="1" height="41" fill="#32cd32" />
<rect x="864" y="383" width="3" height="19" fill="#32cd32" />
<rect x="869" y="393" width="1" height="23" fill="#32cd32" />
<rect x="868" y="402" width="3" height="11" fill="#32cd32" />
<rect x="873" y="393" width="1" height="23" fill="#ff0000" />
<rect x="872" y="406" width="3" height="7" fill="#ff0000" />
<rect x="873" y="407" width="1" height="5" fill="#ff4500" />
<rect x="877" y="357" width="1" height="60" fill="#ff0000" />
<rect x="876" y="362" width="3" height="46" fill="#ff0000" />
<rect x="877" y="363" width="1" height="44" fill="#ff4500" />
<rect x="881" y="359" width="1" height="78" fill="#32cd32" />
<rect x="880" y="362" width="3" height="73" fill="#32cd32" />
<rect x="885" y="427" width="1" height="16" fill="#ff0000" />
<rect x="884" y="429" width="3" height="6" fill="#ff0000" />
<rect x="885" y="430" width="1" height="4" fill="#ff4500" />
<rect x="889" y="410" width="1" height="27" fill="#ff0000" />
<rect x="888" y="412" width="3" height="17" fill="#ff0000" />
<rect x="889" y="413" width="1" height="15" fill="#ff4500" />
<rect x="893" y="400" width="1" height="20" fill="#32cd32" />
<rect x="892" y="412" width="3" height="6" fill="#32cd32" />
<rect x="897" y="408" width="1" height="20" fill="#ff0000" />
<rect x="896" y="415" width="3" height="3" fill="#ff0000" />
<rect x="897" y="416" width="1" height="1" fill="#ff4500" />
<rect x="901" y="398" width="1" height="48" fill="#32cd32" />
<rect x="900" y="415" width="3" height="22" fill="#32cd32" />
<rect x="905" y="427" width="1" height="28" fill="#ff0000" />
<rect x="904" y="432" width="3" height="5" fill="#ff0000" />
<rect x="905" y="433" width="1" height="3" fill="#ff4500" />
<rect x="909" y="424" width="1" height="12" fill="#32cd32" />
<rect x="908" y="433" width="3" height="2" fill="#32cd32" />
<rect x="913" y="410" width="1" height="25" fill="#ff0000" />
<rect x="912" y="413" width="3" height="16" fill="#ff0000" />
<rect x="913" y="414" width="1" height="14" fill="#ff4500" />
<rect x="917" y="402" width="1" height="22" fill="#32cd32" />
<rect x="916" y="413" width="3" height="3" fill="#32cd32" />
<rect x="921" y="408" width="1" height="48" fill="#32cd32" />
<rect x="920" y="415" width="3" height="37" fill="#32cd32" />
<rect x="925" y="442" width="1" height="33" fill="#32cd32" />
<rect x="924" y="451" width="3" height="19" fill="#32cd32" />
<rect x="4" y="525" width="3" height="4" fill="#c0c0c0" />
<rect x="8" y="525" width="3" height="7" fill="#c0c0c0" />
<rect x="12" y="525" width="3" height="7" fill="#c0c0c0" />
<rect x="16" y="525" width="3" height="6" fill="#c0c0c0" />
<rect x="20" y="525" width="3" height="4" fill="#c0c0c0" />
<rect x="24" y="525" width="3" height="2" fill="#c0c0c0" />
<rect x="28" y="523" width="3" height="2" fill="#c0c0c0" />
<rect x="32" y="523" width="3" height="2" fill="#c0c0c0" />
<rect x="36" y="518" width="3" height="7" fill="#c0c0c0" />
<rect x="40" y="518" width="3" height="7" fill="#c0c0c0" />
<rect x="44" y="521" width="3" height="4" fill="#c0c0c0" />
<rect x="48" y="525" width="3" height="1" fill="#c0c0c0" />
<rect x="52" y="525" width="3" height="3" fill="#c0c0c0" />
<rect x="56" y="525" width="3" height="5" fill="#c0c0c0" />
<rect x="60" y="525" width="3" height="7" fill="#c0c0c0" />
<rect x="64" y="525" width="3" height="16" fill="#c0c0c0" />
<rect x="68" y="525" width="3" height="22" fill="#c0c0c0" />
<rect x="72" y="525" width="3" height="28" fill="#c0c0c0" />
<rect x="76" y="525" width="3" height="33" fill="#c0c0c0" />
<rect x="80" y="525" width="3" height="35" fill="#c0c0c0" />
<rect x="84" y="525" width="3" height="33" fill="#c0c0c0" />
<rect x="88" y="525" width="3" height="32" fill="#c0c0c0" />
<rect x="92" y="525" width="3" height="30" fill="#c0c0c0" />
<rect x="96" y="525" width="3" height="30" fill="#c0c0c0" />
<rect x="100" y="525" width="3" height="31" fill="#c0c0c0" />
<rect x="104" y="525" width="3" height="31" fill="#c0c0c0" />
<rect x="108" y="525" width="3" height="30" fill="#c0c0c0" />
<rect x="112" y="525" width="3" height="29" fill="#c0c0c0" />
<rect x="116" y="525" width="3" height="28" fill="#c0c0c0" />
<rect x="120" y="525" width="3" height="27" fill="#c0c0c0" />
<rect x="124" y="525" width="3" height="28" fill="#c0c0c0" />
<rect x="128" y="525" width="3" height="29" fill="#c0c0c0" />
<rect x="132" y="525" width="3" height="33" fill="#c0c0c0" />
<rect x="136" y="525" width="3" height="36" fill="#c0c0c0" />
<rect x="140" y="525" width="3" height="37" fill="#c0c0c0" />
<rect x="144" y="525" width="3" height="39" fill="#c0c0c0" />
<rect x="148" y="525" width="3" height="41" fill="#c0c0c0" />
<rect x="152" y="525" width="3" height="42" fill="#c0c0c0" />
<rect x="156" y="525" width="3" height="42" fill="#c0c0c0" />
<rect x="160" y="525" width="3" height="40" fill="#c0c0c0" />
<rect x="164" y="525" width="3" height="37" fill="#c0c0c0" />
<rect x="168" y="525" width="3" height="34" fill="#c0c0c0" />
<rect x="172" y="525" width="3" height="31" fill="#c0c0c0" />
<rect x="176" y="525" width="3" height="25" fill="#c0c0c0" />
<rect x="180" y="525" width="3" height="19" fill="#c0c0c0" />
<rect x="184" y="525" width="3" height="15" fill="#c0c0c0" />
<rect x="188" y="525" width="3" height="11" fill="#c0c0c0" />
<rect x="192" y="525" width="3" height="8" fill="#c0c0c0" />
<rect x="196" y="525" width="3" height="3" fill="#c0c0c0" />
<rect x="200" y="522" width="3" height="3" fill="#c0c0c0" />
<rect x="204" y="519" width="3" height="6" fill="#c0c0c0" />
<rect x="208" y="516" width="3" height="9" fill="#c0c0c0" />
<rect x="212" y="513" width="3" height="12" fill="#c0c0c0" />
<rect x="216" y="509" width="3" height="16" fill="#c0c0c0" />
<rect x="220" y="505" width="3" height="20" fill="#c0c0c0" />
<rect x="224" y="503" width="3" height="22" fill="#c0c0c0" />
<rect x="228" y="503" width="3" height="22" fill="#c0c0c0" />
<rect x="232" y="500" width="3" height="25" fill="#c0c0c0" />
<rect x="236" y="497" width="3" height="28" fill="#c0c0c0" />
<rect x="240" y="495" width="3" height="30" fill="#c0c0c0" />
<rect x="244" y="494" width="3" height="31" fill="#c0c0c0" />
<rect x="248" y="493" width="3" height="32" fill="#c0c0c0" />
<rect x="252" y="492" width="3" height="33" fill="#c0c0c0" />
<rect x="256" y="496" width="3" height="29" fill="#c0c0c0" />
<rect x="260" y="499" width="3" height="26" fill="#c0c0c0" />
<rect x="264" y="500" width="3" height="25" fill="#c0c0c0" />
<rect x="268" y="503" width="3" height="22" fill="#c0c0c0" />
<rect x="272" y="507" width="3" height="18" fill="#c0c0c0" />
<rect x="276" y="507" width="3" height="18" fill="#c0c0c0" />
<rect x="280" y="503" width="3" height="22" fill="#c0c0c0" />
<rect x="284" y="499" width="3" height="26" fill="#c0c0c0" />
<rect x="288" y="496" width="3" height="29" fill="#c0c0c0" />
<rect x="292" y="495" width="3" height="30" fill="#c0c0c0" />
<rect x="296" y="498" width="3" height="27" fill="#c0c0c0" />
<rect x="300" y="501" width="3" height="24" fill="#c0c0c0" />
<rect x="304" y="502" width="3" height="23" fill="#c0c0c0" />
<rect x="308" y="501" width="3" height="24" fill="#c0c0c0" />
<rect x="312" y="499" width="3" height="26" fill="#c0c0c0" />
<rect x="316" y="498" width="3" height="27" fill="#c0c0c0" />
<rect x="320" y="496" width="3" height="29" fill="#c0c0c0" />
<rect x="324" y="494" width="3" height="31" fill="#c0c0c0" />
<rect x="328" y="495" width="3" height="30" fill="#c0c0c0" />
<rect x="332" y="496" width="3" height="29" fill="#c0c0c0" />
<rect x="336" y="496" width="3" height="29" fill="#c0c0c0" />
<rect x="340" y="495" width="3" height="30" fill="#c0c0c0" />
<rect x="344" y="497" width="3" height="28" fill="#c0c0c0" />
<rect x="348" y="498" width="3" height="27" fill="#c0c0c0" />
<rect x="352" y="499" width="3" height="26" fill="#c0c0c0" />
<rect x="356" y="501" width="3" height="24" fill="#c0c0c0" />
<rect x="360" y="501" width="3" height="24" fill="#c0c0c0" />
<rect x="364" y="500" width="3" height="25" fill="#c0c0c0" />
<rect x="368" y="502" width="3" height="23" fill="#c0c0c0" />
<rect x="372" y="507" width="3" height="18" fill="#c0c0c0" />
<rect x="376" y="509" width="3" height="16" fill="#c0c0c0" />
<rect x="380" y="512" width="3" height="13" fill="#c0c0c0" />
<rect x="384" y="512" width="3" height="13" fill="#c0c0c0" />
<rect x="388" y="513" width="3" height="12" fill="#c0c0c0" />
<rect x="392" y="514" width="3" height="11" fill="#c0c0c0" />
<rect x="396" y="516" width="3" height="9" fill="#c0c0c0" />
<rect x="400" y="520" width="3" height="5" fill="#c0c0c0" />
<rect x="404" y="524" width="3" height="1" fill="#c0c0c0" />
<rect x="408" y="525" width="3" height="2" fill="#c0c0c0" />
<rect x="412" y="525" width="3" height="3" fill="#c0c0c0" />
<rect x="416" y="525" width="3" height="5" fill="#c0c0c0" />
<rect x="420" y="525" width="3" height="15" fill="#c0c0c0" />
<rect x="424" y="525" width="3" height="25" fill="#c0c0c0" />
<rect x="428" y="525" width="3" height="32" fill="#c0c0c0" />
<rect x="432" y="525" width="3" height="36" fill="#c0c0c0" />
<rect x="436" y="525" width="3" height="39" fill="#c0c0c0" />
<rect x="440" y="525" width="3" height="38" fill="#c0c0c0" />
<rect x="444" y="525" width="3" height="39" fill="#c0c0c0" />
<rect x="448" y="525" width="3" height="39" fill="#c0c0c0" />
<rect x="452" y="525" width="3" height="38" fill="#c0c0c0" />
<rect x="456" y="525" width="3" height="37" fill="#c0c0c0" />
<rect x="460" y="525" width="3" height="37" fill="#c0c0c0" />
<rect x="464" y="525" width="3" height="39" fill="#c0c0c0" />
<rect x="468" y="525" width="3" height="40" fill="#c0c0c0" />
<rect x="472" y="525" width="3" height="41" fill="#c0c0c0" />
<rect x="476" y="525" width="3" height="40" fill="#c0c0c0" />
<rect x="480" y="525" width="3" height="40" fill="#c0c0c0" />
<rect x="484" y="525" width="3" height="41" fill="#c0c0c0" />
<rect x="488" y="525" width="3" height="42" fill="#c0c0c0" />
<rect x="492" y="525" width="3" height="40" fill="#c0c0c0" />
<rect x="496" y="525" width="3" height="37" fill="#c0c0c0" />
<rect x="500" y="525" width="3" height="34" fill="#c0c0c0" />
<rect x="504" y="525" width="3" height="33" fill="#c0c0c0" />
<rect x="508" y="525" width="3" height="33" fill="#c0c0c0" />
<rect x="512" y="525" width="3" height="33" fill="#c0c0c0" />
<rect x="516" y="525" width="3" height="32" fill="#c0c0c0" />
<rect x="520" y="525" width="3" height="31" fill="#c0c0c0" />
<rect x="524" y="525" width="3" height="31" fill="#c0c0c0" />
<rect x="528" y="525" width="3" height="31" fill="#c0c0c0" />
<rect x="532" y="525" width="3" height="31" fill="#c0c0c0" />
<rect x="536" y="525" width="3" height="31" fill="#c0c0c0" />
<rect x="540" y="525" width="3" height="29" fill="#c0c0c0" />
<rect x="544" y="525" width="3" height="29" fill="#c0c0c0" />
<rect x="548" y="525" width="3" height="28" fill="#c0c0c0" />
<rect x="552" y="525" width="3" height="27" fill="#c0c0c0" />
<rect x="556" y="525" width="3" height="24" fill="#c0c0c0" />
<rect x="560" y="525" width="3" height="22" fill="#c0c0c0" />
<rect x="564" y="525" width="3" height="17" fill="#c0c0c0" />
<rect x="568" y="525" width="3" height="13" fill="#c0c0c0" />
<rect x="572" y="525" width="3" height="10" fill="#c0c0c0" />
<rect x="576" y="525" width="3" height="8" fill="#c0c0c0" />
<rect x="580" y="525" width="3" height="7" fill="#c0c0c0" />
<rect x="584" y="525" width="3" height="6" fill="#c0c0c0" />
<rect x="588" y="525" width="3" height="6" fill="#c0c0c0" />
<rect x="592" y="525" width="3" height="10" fill="#c0c0c0" />
<rect x="596" y="525" width="3" height="12" fill="#c0c0c0" />
<rect x="600" y="525" width="3" height="14" fill="#c0c0c0" />
<rect x="604" y="525" width="3" height="18" fill="#c0c0c0" />
<rect x="608" y="525" width="3" height="19" fill="#c0c0c0" />
<rect x="612" y="525" width="3" height="20" fill="#c0c0c0" />
<rect x="616" y="525" width="3" height="18" fill="#c0c0c0" />
<rect x="620" y="525" width="3" height="15" fill="#c0c0c0" />
<rect x="624" y="525" width="3" height="15" fill="#c0c0c0" />
<rect x="628" y="525" width="3" height="16" fill="#c0c0c0" />
<rect x="632" y="525" width="3" height="19" fill="#c0c0c0" />
<rect x="636" y="525" width="3" height="21" fill="#c0c0c0" />
<rect x="640" y="525" width="3" height="22" fill="#c0c0c0" />
<rect x="644" y="525" width="3" height="23" fill="#c0c0c0" />
<rect x="648" y="525" width="3" height="21" fill="#c0c0c0" />
<rect x="652" y="525" width="3" height="19" fill="#c0c0c0" />
<rect x="656" y="525" width="3" height="17" fill="#c0c0c0" />
<rect x="660" y="525" width="3" height="14" fill="#c0c0c0" />
<rect x="664" y="525" width="3" height="11" fill="#c0c0c0" />
<rect x="668" y="525" width="3" height="8" fill="#c0c0c0" />
<rect x="672" y="525" width="3" height="6" fill="#c0c0c0" />
<rect x="676" y="525" width="3" height="4" fill="#c0c0c0" />
<rect x="680" y="524" width="3" height="1" fill="#c0c0c0" />
<rect x="684" y="521" width="3" height="4" fill="#c0c0c0" />
<rect x="688" y="517" width="3" height="8" fill="#c0c0c0" />
<rect x="692" y="513" width="3" height="12" fill="#c0c0c0" />
<rect x="696" y="512" width="3" height="13" fill="#c0c0c0" />
<rect x="700" y="512" width="3" height="13" fill="#c0c0c0" />
<rect x="704" y="513" width="3" height="12" fill="#c0c0c0" />
<rect x="708" y="515" width="3" height="10" fill="#c0c0c0" />
<rect x="712" y="516" width="3" height="9" fill="#c0c0c0" />
<rect x="716" y="517" width="3" height="8" fill="#c0c0c0" />
<rect x="720" y="518" width="3" height="7" fill="#c0c0c0" />
<rect x="724" y="519" width="3" height="6" fill="#c0c0c0" />
<rect x="728" y="520" width="3" height="5" fill="#c0c0c0" />
<rect x="732" y="523" width="3" height="2" fill="#c0c0c0" />
<rect x="736" y="525" width="3" height="3" fill="#c0c0c0" />
<rect x="740" y="525" width="3" height="6" fill="#c0c0c0" />
<rect x="744" y="525" width="3" height="9" fill="#c0c0c0" />
<rect x="748" y="525" width="3" height="11" fill="#c0c0c0" />
<rect x="752" y="525" width="3" height="11" fill="#c0c0c0" />
<rect x="756" y="525" width="3" height="12" fill="#c0c0c0" />
<rect x="760" y="525" width="3" height="14" fill="#c0c0c0" />
<rect x="764" y="525" width="3" height="15" fill="#c0c0c0" />
<rect x="768" y="525" width="3" height="16" fill="#c0c0c0" />
<rect x="772" y="525" width="3" height="18" fill="#c0c0c0" />
<rect x="776" y="525" width="3" height="22" fill="#c0c0c0" />
<rect x="780" y="525" width="3" height="27" fill="#c0c0c0" />
<rect x="784" y="525" width="3" height="29" fill="#c0c0c0" />
<rect x="788" y="525" width="3" height="30" fill="#c0c0c0" />
<rect x="792" y="525" width="3" height="30" fill="#c0c0c0" />
<rect x="796" y="525" width="3" height="30" fill="#c0c0c0" />
<rect x="800" y="525" width="3" height="33" fill="#c0c0c0" />
<rect x="804" y="525" width="3" height="34" fill="#c0c0c0" />
<rect x="808" y="525" width="3" height="34" fill="#c0c0c0" />
<rect x="812" y="525" width="3" height="33" fill="#c0c0c0" />
<rect x="816" y="525" width="3" height="33" fill="#c0c0c0" />
<rect x="820" y="525" width="3" height="33" fill="#c0c0c0" />
<rect x="824" y="525" width="3" height="33" fill="#c0c0c0" />
<rect x="828" y="525" width="3" height="30" fill="#c0c0c0" />
<rect x="832" y="525" width="3" height="28" fill="#c0c0c0" />
<rect x="836" y="525" width="3" height="26" fill="#c0c0c0" />
<rect x="840" y="525" width="3" height="23" fill="#c0c0c0" />
<rect x="844" y="525" width="3" height="20" fill="#c0c0c0" />
<rect x="848" y="525" width="3" height="16" fill="#c0c0c0" />
<rect x="852" y="525" width="3" height="14" fill="#c0c0c0" />
<rect x="856" y="525" width="3" height="12" fill="#c0c0c0" />
<rect x="860" y="525" width="3" height="10" fill="#c0c0c0" />
<rect x="864" y="525" width="3" height="9" fill="#c0c0c0" />
<rect x="868" y="525" width="3" height="10" fill="#c0c0c0" />
<rect x="872" y="525" width="3" height="9" fill="#c0c0c0" />
<rect x="876" y="525" width="3" height="6" fill="#c0c0c0" />
<rect x="880" y="525" width="3" height="9" fill="#c0c0c0" />
<rect x="884" y="525" width="3" height="10" fill="#c0c0c0" />
<rect x="888" y="525" width="3" height="10" fill="#c0c0c0" />
<rect x="892" y="525" width="3" height="10" fill="#c0c0c0" />
<rect x="896" y="525" width="3" height="11" fill="#c0c0c0" />
<rect x="900" y="525" width="3" height="13" fill="#c0c0c0" />
<rect x="904" y="525" width="3" height="14" fill="#c0c0c0" />
<rect x="908" y="525" width="3" height="14" fill="#c0c0c0" />
<rect x="912" y="525" width="3" height="13" fill="#c0c0c0" />
<rect x="916" y="525" width="3" height="12" fill="#c0c0c0" />
<rect x="920" y="525" width="3" height="13" fill="#c0c0c0" />
<rect x="924" y="525" width="3" height="17" fill="#c0c0c0" />
</g>
<path d="M5.5 119V120M6.5 120V121M7.5 120V121M8.5 121V122M9.5 121V122M10.5 122V123M11.5 122V123M12.5 123V124M13.5 123V124M14.5 124V125M15.5 124V125M16.5 125V126M17.5 125V126M18.5 125V126M19.5 126V127M20.5 126V127M21.5 126V127M22.5 127V128M23.5 127V128M24.5 128V129M25.5 128V129M26.5 129V130M27.5 129V130M28.5 130V131M29.5 130V131M30.5 131V132M31.5 131V132M32.5 131V132M33.5 132V133M34.5 132V133M35.5 132V133M36.5 132V133M37.5 132V133M38.5 132V133M39.5 132V133M40.5 132V133M41.5 132V133M42.5 132V133M43.5 132V133M44.5 133V134M45.5 133V134M46.5 134V135M47.5 134V135M48.5 134V135M49.5 135V136M50.5 135V136M51.5 136V137M52.5 136V137M53.5 136V137M54.5 136V137M55.5 136V137M56.5 136V137M57.5 136V137M58.5 136V137M59.5 136V137M60.5 136V137M61.5 137V138M62.5 137V138M63.5 138V139M64.5 139V140M65.5 139V140M66.5 140V141M67.5 141V142M68.5 142V143M69.5 142V143M70.5 143V144M71.5 144V145M72.5 144V145M73.5 145V146M74.5 146V147M75.5 147V148M76.5 148V149M77.5 149V150M78.5 150V151M79.5 150V151M80.5 151V152M81.5 152V153M82.5 153V154M83.5 153V154M84.5 154V155M85.5 155V156M86.5 155V156M87.5 156V157M88.5 157V158M89.5 157V158M90.5 158V159M91.5 159V160M92.5 159V160M93.5 160V161M94.5 160V161M95.5 161V162M96.5 162V163M97.5 162V163M98.5 163V164M99.5 163V164M100.5 164V165M101.5 165V166M102.5 165V166M103.5 166V167M104.5 167V168M105.5 167V168M106.5 168V169M107.5 169V170M108.5 169V170M109.5 170V171M110.5 171V172M111.5 171V172M112.5 172V173M113.5 173V174M114.5 173V174M115.5 174V175M116.5 174V175M117.5 175V176M118.5 175V176M119.5 176V177M120.5 176V177M121.5 176V177M122.5 177V178M123.5 177V178M124.5 177V178M125.5 178V179M126.5 178V179M127.5 178V179M128.5 179V180M129.5 179V180M130.5 180V181M131.5 181V182M132.5 182V183M133.5 183V184M134.5 184V185M135.5 185V186M136.5 186V187M137.5 187V188M138.5 187V188M139.5 188V189M140.5 189V190M141.5 190V191M142.5 191V192M143.5 192V194M144.5 194V195M145.5 195V196M146.5 196V197M147.5 197V198M148.5 198V200M149.5 200V201M150.5 201V202M151.5 202V203M152.5 203V204M153.5 204V206M154.5 206V207M155.5 207V208M156.5 208V209M157.5 209V210M158.5 210V212M159.5 212V213M160.5 213V214M161.5 214V215M162.5 215V216M163.5 216V217M164.5 217V219M165.5 219V220M166.5 220V221M167.5 221V222M168.5 222V223M169.5 223V224M170.5 224V225M171.5 225V226M172.5 226V227M173.5 226V227M174.5 227V228M175.5 228V229M176.5 229V230M177.5 230V231M178.5 230V231M179.5 231V232M180.5 232V233M181.5 233V234M182.5 234V235M183.5 234V235M184.5 235V236M185.5 236V237M186.5 237V238M187.5 238V239M188.5 239V240M189.5 239V240M190.5 240V241M191.5 241V242M192.5 242V243M193.5 243V244M194.5 244V245M195.5 244V245M196.5 245V246M197.5 246V247M198.5 246V247M199.5 247V248M200.5 247V248M201.5 248V249M202.5 248V249M203.5 249V250M204.5 249V250M205.5 250V251M206.5 250V251M207.5 251V252M208.5 251V252M209.5 252V253M210.5 252V253M211.5 252V253M212.5 252V253M213.5 253V254M214.5 253V254M215.5 253V254M216.5 253V254M217.5 253V254M218.5 253V254M219.5 254V255M220.5 254V255M221.5 253V254M222.5 253V254M223.5 253V254M224.5 253V254M225.5 252V253M226.5 252V253M227.5 252V253M228.5 252V253M229.5 251V252M230.5 251V252M231.5 251V252M232.5 250V251M233.5 249V250M234.5 249V250M235.5 248V249M236.5 247V248M237.5 247V248M238.5 246V247M239.5 245V246M240.5 245V246M241.5 244V245M242.5 243V244M243.5 243V244M244.5 242V243M245.5 242V243M246.5 241V242M247.5 240V241M248.5 240V241M249.5 239V240M250.5 239V240M251.5 238V239M252.5 237V238M253.5 237V238M254.5 236V237M255.5 236V237M256.5 235V236M257.5 234V235M258.5 234V235M259.5 234V235M260.5 233V234M261.5 233V234M262.5 232V233M263.5 232V233M264.5 232V233M265.5 231V232M266.5 231V232M267.5 231V232M268.5 230V231M269.5 230V231M270.5 229V230M271.5 229V230M272.5 229V230M273.5 228V229M274.5 228V229M275.5 227V228M276.5 227V228M277.5 226V227M278.5 226V227M279.5 225V226M280.5 225V226M281.5 224V225M282.5 223V224M283.5 222V223M284.5 221V222M285.5 220V221M286.5 219V220M287.5 218V219M288.5 217V218M289.5 216V217M290.5 215V216M291.5 214V215M292.5 213V214M293.5 212V213M294.5 211V212M295.5 210V211M296.5 209V210M297.5 208V209M298.5 207V208M299.5 206V207M300.5 205V206M301.5 203V205M302.5 202V203M303.5 200V202M304.5 199V200M305.5 197V199M306.5 196V197M307.5 194V196M308.5 193V194M309.5 191V193M310.5 190V191M311.5 188V190M312.5 187V188M313.5 186V187M314.5 184V186M315.5 183V184M316.5 182V183M317.5 180V182M318.5 179V180M319.5 178V179M320.5 177V178M321.5 175V177M322.5 174V175M323.5 173V174M324.5 171V173M325.5 170V171M326.5 169V170M327.5 167V169M328.5 166V167M329.5 165V166M330.5 163V165M331.5 162V163M332.5 161V162M333.5 159V161M334.5 158V159M335.5 157V158M336.5 155V157M337.5 154V155M338.5 153V154M339.5 151V153M340.5 150V151M341.5 149V150M342.5 148V149M343.5 147V148M344.5 146V147M345.5 145V146M346.5 144V145M347.5 143V144M348.5 142V143M349.5 141V142M350.5 140V141M351.5 139V140M352.5 138V139M353.5 137V138M354.5 136V137M355.5 135V136M356.5 134V135M357.5 134V135M358.5 133V134M359.5 132V133M360.5 131V132M361.5 130V131M362.5 130V131M363.5 129V130M364.5 128V129M365.5 128V129M366.5 127V128M367.5 126V127M368.5 126V127M369.5 125V126M370.5 124V125M371.5 124V125M372.5 123V124M373.5 122V123M374.5 122V123M375.5 121V122M376.5 121V122M377.5 120V121M378.5 120V121M379.5 119V120M380.5 118V119M381.5 118V119M382.5 117V118M383.5 117V118M384.5 116V117M385.5 116V117M386.5 116V117M387.5 115V116M388.5 115V116M389.5 114V115M390.5 114V115M391.5 114V115M392.5 113V114M393.5 113V114M394.5 113V114M395.5 113V114M396.5 113V114M397.5 112V113M398.5 112V113M399.5 112V113M400.5 112V113M401.5 112V113M402.5 112V113M403.5 112V113M404.5 112V113M405.5 111V112M406.5 111V112M407.5 111V112M408.5 111V112M409.5 111V112M410.5 111V112M411.5 111V112M412.5 110V111M413.5 110V111M414.5 110V111M415.5 110V111M416.5 110V111M417.5 110V111M418.5 110V111M419.5 110V111M420.5 110V111M421.5 111V112M422.5 111V112M423.5 112V113M424.5 112V113M425.5 113V114M426.5 113V114M427.5 114V115M428.5 114V115M429.5 114V115M430.5 115V116M431.5 115V116M432.5 116V117M433.5 116V117M434.5 117V118M435.5 117V118M436.5 118V119M437.5 118V119M438.5 119V120M439.5 120V121M440.5 120V121M441.5 121V122M442.5 121V122M443.5 122V123M444.5 123V124M445.5 123V124M446.5 124V125M447.5 125V126M448.5 125V126M449.5 126V127M450.5 127V128M451.5 127V128M452.5 128V129M453.5 129V130M454.5 129V130M455.5 130V131M456.5 131V132M457.5 131V132M458.5 132V133M459.5 133V134M460.5 134V135M461.5 134V135M462.5 135V136M463.5 136V137M464.5 137V138M465.5 138V139M466.5 139V140M467.5 140V141M468.5 141V142M469.5 142V143M470.5 143V144M471.5 144V145M472.5 145V146M473.5 146V147M474.5 147V148M475.5 148V150M476.5 150V151M477.5 151V152M478.5 152V153M479.5 153V155M480.5 155V156M481.5 156V157M482.5 157V158M483.5 158V160M484.5 160V161M485.5 161V162M486.5 162V163M487.5 163V165M488.5 165V166M489.5 166V167M490.5 167V169M491.5 169V170M492.5 170V171M493.5 171V172M494.5 172V173M495.5 173V175M496.5 175V176M497.5 176V177M498.5 177V178M499.5 178V180M500.5 180V181M501.5 181V182M502.5 182V184M503.5 184V185M504.5 185V187M505.5 187V188M506.5 188V189M507.5 189V191M508.5 191V192M509.5 192V194M510.5 194V195M511.5 195V196M512.5 196V198M513.5 198V199M514.5 199V200M515.5 200V202M516.5 202V203M517.5 203V204M518.5 204V206M519.5 206V207M520.5 207V209M521.5 209V210M522.5 210V211M523.5 211V213M524.5 213V214M525.5 214V215M526.5 215V217M527.5 217V218M528.5 218V219M529.5 219V220M530.5 220V222M531.5 222V223M532.5 223V224M533.5 224V226M534.5 226V227M535.5 227V228M536.5 228V229M537.5 229V231M538.5 231V232M539.5 232V233M540.5 233V234M541.5 234V236M542.5 236V237M543.5 237V238M544.5 238V240M545.5 240V241M546.5 241V242M547.5 242V243M548.5 243V245M549.5 245V246M550.5 246V247M551.5 247V248M552.5 248V249M553.5 249V250M554.5 250V251M555.5 251V252M556.5 252V253M557.5 253V254M558.5 254V255M559.5 255V256M560.5 256V257M561.5 257V258M562.5 258V259M563.5 259V260M564.5 260V261M565.5 261V262M566.5 262V263M567.5 263V264M568.5 263V264M569.5 264V265M570.5 265V266M571.5 266V267M572.5 267V268M573.5 267V268M574.5 268V269M575.5 268V269M576.5 269V270M577.5 269V270M578.5 270V271M579.5 270V271M580.5 271V272M581.5 271V272M582.5 272V273M583.5 272V273M584.5 272V273M585.5 273V274M586.5 273V274M587.5 273V274M588.5 274V275M589.5 274V275M590.5 274V275M591.5 275V276M592.5 275V276M593.5 276V277M594.5 277V278M595.5 277V278M596.5 278V279M597.5 279V280M598.5 279V280M599.5 280V281M600.5 281V282M601.5 281V282M602.5 282V283M603.5 283V284M604.5 283V284M605.5 284V285M606.5 284V285M607.5 285V286M608.5 285V286M609.5 286V287M610.5 286V287M611.5 287V288M612.5 287V288M613.5 287V288M614.5 288V289M615.5 288V289M616.5 288V289M617.5 289V290M618.5 289V290M619.5 289V290M620.5 290V291M621.5 290V291M622.5 290V291M623.5 291V292M624.5 291V292M625.5 292V293M626.5 292V293M627.5 293V294M628.5 293V294M629.5 294V295M630.5 294V295M631.5 295V296M632.5 295V296M633.5 296V297M634.5 296V297M635.5 297V298M636.5 297V298M637.5 298V299M638.5 298V299M639.5 299V300M640.5 299V300M641.5 300V301M642.5 300V301M643.5 301V302M644.5 301V302M645.5 301V302M646.5 302V303M647.5 302V303M648.5 303V304M649.5 303V304M650.5 304V305M651.5 304V305M652.5 305V306M653.5 305V306M654.5 305V306M655.5 306V307M656.5 306V307M657.5 306V307M658.5 307V308M659.5 307V308M660.5 307V308M661.5 307V308M662.5 308V309M663.5 308V309M664.5 308V309M665.5 308V309M666.5 308V309M667.5 309V310M668.5 309V310M669.5 309V310M670.5 309V310M671.5 309V310M672.5 309V310M673.5 309V310M674.5 309V310M675.5 309V310M676.5 309V310M677.5 309V310M678.5 309V310M679.5 309V310M680.5 308V309M681.5 308V309M682.5 308V309M683.5 308V309M684.5 308V309M685.5 308V309M686.5 307V308M687.5 307V308M688.5 307V308M689.5 306V307M690.5 306V307M691.5 306V307M692.5 305V306M693.5 305V306M694.5 305V306M695.5 305V306M696.5 304V305M697.5 304V305M698.5 304V305M699.5 304V305M700.5 303V304M701.5 303V304M702.5 303V304M703.5 302V303M704.5 302V303M705.5 302V303M706.5 302V303M707.5 302V303M708.5 302V303M709.5 302V303M710.5 302V303M711.5 302V303M712.5 302V303M713.5 302V303M714.5 302V303M715.5 302V303M716.5 302V303M717.5 302V303M718.5 302V303M719.5 302V303M720.5 302V303M721.5 302V303M722.5 302V303M723.5 303V304M724.5 303V304M725.5 303V304M726.5 303V304M727.5 303V304M728.5 303V304M729.5 303V304M730.5 303V304M731.5 304V305M732.5 304V305M733.5 304V305M734.5 305V306M735.5 305V306M736.5 306V307M737.5 306V307M738.5 306V307M739.5 307V308M740.5 307V308M741.5 307V308M742.5 308V309M743.5 308V309M744.5 308V309M745.5 309V310M746.5 309V310M747.5 309V310M748.5 309V310M749.5 310V311M750.5 310V311M751.5 310V311M752.5 310V311M753.5 311V312M754.5 311V312M755.5 311V312M756.5 311V312M757.5 312V313M758.5 312V313M759.5 312V313M760.5 312V313M761.5 312V313M762.5 312V313M763.5 312V313M764.5 313V314M765.5 313V314M766.5 313V314M767.5 313V314M768.5 313V314M769.5 313V314M770.5 313V314M771.5 314V315M772.5 314V315M773.5 314V315M774.5 315V316M775.5 315V316M776.5 316V317M777.5 316V317M778.5 317V318M779.5 317V318M780.5 318V319M781.5 318V319M782.5 319V320M783.5 319V320M784.5 320V321M785.5 320V321M786.5 320V321M787.5 321V322M788.5 321V322M789.5 322V323M790.5 322V323M791.5 322V323M792.5 323V324M793.5 323V324M794.5 323V324M795.5 324V325M796.5 324V325M797.5 325V326M798.5 325V326M799.5 326V327M800.5 326V327M801.5 327V328M802.5 327V328M803.5 328V329M804.5 328V329M805.5 329V330M806.5 329V330M807.5 330V331M808.5 330V331M809.5 331V332M810.5 331V332M811.5 332V333M812.5 333V334M813.5 333V334M814.5 334V335M815.5 334V335M816.5 335V336M817.5 336V337M818.5 336V337M819.5 337V338M820.5 337V338M821.5 338V339M822.5 339V340M823.5 339V340M824.5 340V341M825.5 341V342M826.5 341V342M827.5 342V343M828.5 343V344M829.5 344V345M830.5 344V345M831.5 345V346M832.5 346V347M833.5 347V348M834.5 347V348M835.5 348V349M836.5 349V350M837.5 350V351M838.5 350V351M839.5 351V352M840.5 352V353M841.5 353V354M842.5 353V354M843.5 354V355M844.5 355V356M845.5 356V357M846.5 357V358M847.5 357V358M848.5 358V359M849.5 359V360M850.5 360V361M851.5 360V361M852.5 361V362M853.5 362V363M854.5 363V364M855.5 364V365M856.5 364V365M857.5 365V366M858.5 366V367M859.5 367V368M860.5 367V368M861.5 368V369M862.5 369V370M863.5 370V371M864.5 371V372M865.5 371V372M866.5 372V373M867.5 373V374M868.5 374V375M869.5 375V376M870.5 375V376M871.5 376V377M872.5 377V378M873.5 378V379M874.5 378V379M875.5 379V380M876.5 380V381M877.5 381V382M878.5 382V383M879.5 383V384M880.5 383V384M881.5 384V385M882.5 385V386M883.5 386V387M884.5 387V388M885.5 387V388M886.5 388V389M887.5 389V390M888.5 389V390M889.5 390V391M890.5 390V391M891.5 391V392M892.5 391V392M893.5 392V393M894.5 392V393M895.5 393V394M896.5 394V395M897.5 394V395M898.5 395V396M899.5 395V396M900.5 396V397M901.5 396V397M902.5 397V398M903.5 398V399M904.5 398V399M905.5 399V400M906.5 399V400M907.5 400V401M908.5 400V401M909.5 401V402M910.5 401V402M911.5 402V403M912.5 402V403M913.5 403V404M914.5 403V404M915.5 404V405M916.5 404V405M917.5 405V406M918.5 406V407M919.5 406V407M920.5 407V408M921.5 408V409M922.5 409V410M923.5 410V411M924.5 411V412" fill="none" stroke="#ffff00" stroke-width="1" shape-rendering="crispEdges"/>
<path d="M5.5 140V141M6.5 141V142M7.5 141V142M8.5 141V142M9.5 142V143M10.5 142V143M11.5 143V144M12.5 143V144M13.5 144V145M14.5 144V145M15.5 145V146M16.5 145V146M17.5 145V146M18.5 145V146M19.5 145V146M20.5 145V146M21.5 145V146M22.5 145V146M23.5 145V146M24.5 145V146M25.5 145V146M26.5 145V146M27.5 145V146M28.5 145V146M29.5 145V146M30.5 145V146M31.5 145V146M32.5 145V146M33.5 144V145M34.5 144V145M35.5 143V144M36.5 142V143M37.5 141V142M38.5 141V142M39.5 140V141M40.5 139V140M41.5 139V140M42.5 138V139M43.5 138V139M44.5 137V138M45.5 137V138M46.5 136V137M47.5 136V137M48.5 135V136M49.5 135V136M50.5 134V135M51.5 134V135M52.5 134V135M53.5 133V134M54.5 133V134M55.5 133V134M56.5 133V134M57.5 133V134M58.5 133V134M59.5 133V134M60.5 133V134M61.5 133V134M62.5 134V135M63.5 135V136M64.5 136V137M65.5 137V138M66.5 138V140M67.5 140V141M68.5 141V143M69.5 143V144M70.5 144V146M71.5 146V148M72.5 148V149M73.5 149V151M74.5 151V153M75.5 153V154M76.5 154V156M77.5 156V157M78.5 157V158M79.5 158V159M80.5 159V161M81.5 161V162M82.5 162V163M83.5 163V164M84.5 164V165M85.5 165V166M86.5 166V167M87.5 167V168M88.5 168V169M89.5 169V170M90.5 170V171M91.5 171V172M92.5 172V174M93.5 174V175M94.5 175V176M95.5 176V177M96.5 177V178M97.5 178V179M98.5 179V180M99.5 180V181M100.5 181V182M101.5 182V184M102.5 184V185M103.5 185V186M104.5 186V187M105.5 187V188M106.5 188V189M107.5 189V190M108.5 190V191M109.5 191V193M110.5 193V194M111.5 194V195M112.5 195V197M113.5 197V199M114.5 199V201M115.5 201V203M116.5 203V205M117.5 205V207M118.5 207V209M119.5 209V211M120.5 211V213M121.5 213V215M122.5 215V216M123.5 216V218M124.5 218V220M125.5 220V221M126.5 221V223M127.5 223V225M128.5 225V226M129.5 226V228M130.5 228V230M131.5 230V232M132.5 232V233M133.5 233V235M134.5 235V237M135.5 237V239M136.5 239V240M137.5 240V242M138.5 242V244M139.5 244V245M140.5 245V247M141.5 247V249M142.5 249V250M143.5 250V252M144.5 252V253M145.5 253V255M146.5 255V256M147.5 256V257M148.5 257V259M149.5 259V260M150.5 260V261M151.5 261V262M152.5 262V263M153.5 263V264M154.5 264V265M155.5 265V266M156.5 266V267M157.5 266V267M158.5 267V268M159.5 268V269M160.5 269V270M161.5 269V270M162.5 270V271M163.5 271V272M164.5 271V272M165.5 272V273M166.5 273V274M167.5 274V275M168.5 274V275M169.5 275V276M170.5 276V277M171.5 276V277M172.5 277V278M173.5 277V278M174.5 278V279M175.5 279V280M176.5 279V280M177.5 279V280M178.5 280V281M179.5 280V281M180.5 280V281M181.5 280V281M182.5 280V281M183.5 280V281M184.5 280V281M185.5 280V281M186.5 280V281M187.5 280V281M188.5 280V281M189.5 280V281M190.5 280V281M191.5 280V281M192.5 281V282M193.5 281V282M194.5 281V282M195.5 280V281M196.5 280V281M197.5 279V280M198.5 279V280M199.5 279V280M200.5 278V279M201.5 278V279M202.5 277V278M203.5 277V278M204.5 277V278M205.5 276V277M206.5 276V277M207.5 276V277M208.5 275V276M209.5 275V276M210.5 274V275M211.5 273V274M212.5 272V273M213.5 272V273M214.5 270V272M215.5 269V270M216.5 267V269M217.5 265V267M218.5 263V265M219.5 262V263M220.5 260V262M221.5 259V260M222.5 257V259M223.5 255V257M224.5 254V255M225.5 252V254M226.5 250V252M227.5 249V250M228.5 247V249M229.5 245V247M230.5 244V245M231.5 242V244M232.5 239V242M233.5 237V239M234.5 235V237M235.5 232V235M236.5 230V232M237.5 227V230M238.5 224V227M239.5 220V224M240.5 217V220M241.5 214V217M242.5 211V214M243.5 209V211M244.5 207V209M245.5 205V207M246.5 204V205M247.5 202V204M248.5 201V202M249.5 199V201M250.5 197V199M251.5 196V197M252.5 194V196M253.5 193V194M254.5 192V193M255.5 191V192M256.5 190V191M257.5 189V190M258.5 188V189M259.5 188V189M260.5 187V188M261.5 186V187M262.5 185V186M263.5 184V185M264.5 183V184M265.5 183V184M266.5 182V183M267.5 181V182M268.5 180V181M269.5 179V180M270.5 178V179M271.5 178V179M272.5 177V178M273.5 176V177M274.5 175V176M275.5 174V175M276.5 173V174M277.5 171V173M278.5 170V171M279.5 169V170M280.5 168V169M281.5 167V168M282.5 165V167M283.5 164V165M284.5 163V164M285.5 162V163M286.5 161V162M287.5 160V161M288.5 159V160M289.5 158V159M290.5 157V158M291.5 156V157M292.5 155V156M293.5 154V155M294.5 153V154M295.5 152V153M296.5 152V153M297.5 151V152M298.5 151V152M299.5 150V151M300.5 149V150M301.5 149V150M302.5 148V149M303.5 147V148M304.5 147V148M305.5 146V147M306.5 145V146M307.5 145V146M308.5 144V145M309.5 144V145M310.5 143V144M311.5 142V143M312.5 142V143M313.5 141V142M314.5 141V142M315.5 140V141M316.5 139V140M317.5 139V140M318.5 138V139M319.5 137V138M320.5 136V137M321.5 135V136M322.5 134V135M323.5 133V134M324.5 132V133M325.5 131V132M326.5 130V131M327.5 129V130M328.5 129V130M329.5 128V129M330.5 128V129M331.5 128V129M332.5 127V128M333.5 127V128M334.5 126V127M335.5 126V127M336.5 125V126M337.5 124V125M338.5 123V124M339.5 121V123M340.5 120V121M341.5 119V120M342.5 117V119M343.5 116V117M344.5 115V116M345.5 114V115M346.5 113V114M347.5 112V113M348.5 111V112M349.5 111V112M350.5 110V111M351.5 109V110M352.5 107V109M353.5 106V107M354.5 104V106M355.5 103V104M356.5 102V103M357.5 101V102M358.5 100V101M359.5 99V100M360.5 98V99M361.5 97V98M362.5 97V98M363.5 96V97M364.5 96V97M365.5 95V96M366.5 94V95M367.5 94V95M368.5 93V94M369.5 93V94M370.5 93V94M371.5 93V94M372.5 94V95M373.5 94V95M374.5 94V95M375.5 94V95M376.5 94V95M377.5 94V95M378.5 94V95M379.5 94V95M380.5 93V94M381.5 93V94M382.5 92V93M383.5 91V92M384.5 90V91M385.5 89V90M386.5 88V89M387.5 88V89M388.5 87V88M389.5 87V88M390.5 87V88M391.5 86V87M392.5 86V87M393.5 86V87M394.5 86V87M395.5 86V87M396.5 86V87M397.5 86V87M398.5 86V87M399.5 86V87M400.5 86V87M401.5 87V88M402.5 88V89M403.5 89V90M404.5 90V91M405.5 91V92M406.5 91V92M407.5 92V93M408.5 93V94M409.5 93V94M410.5 94V95M411.5 94V95M412.5 95V96M413.5 95V96M414.5 96V97M415.5 96V97M416.5 96V97M417.5 97V98M418.5 98V100M419.5 100V102M420.5 102V104M421.5 104V106M422.5 106V108M423.5 108V110M424.5 110V112M425.5 112V114M426.5 114V116M427.5 116V118M428.5 118V120M429.5 120V122M430.5 122V124M431.5 124V126M432.5 126V127M433.5 127V129M434.5 129V131M435.5 131V132M436.5 132V134M437.5 134V135M438.5 135V137M439.5 137V138M440.5 138V141M441.5 141V143M442.5 143V145M443.5 145V148M444.5 148V150M445.5 150V153M446.5 153V155M447.5 155V157M448.5 157V159M449.5 159V161M450.5 161V163M451.5 163V164M452.5 164V166M453.5 166V168M454.5 168V170M455.5 170V172M456.5 172V173M457.5 173V174M458.5 174V175M459.5 175V176M460.5 176V178M461.5 178V180M462.5 180V182M463.5 182V184M464.5 184V186M465.5 186V188M466.5 188V190M467.5 190V192M468.5 192V194M469.5 194V196M470.5 196V198M471.5 198V200M472.5 200V202M473.5 202V204M474.5 204V206M475.5 206V208M476.5 208V210M477.5 210V212M478.5 212V214M479.5 214V216M480.5 216V218M481.5 218V220M482.5 220V222M483.5 222V224M484.5 224V226M485.5 226V228M486.5 228V230M487.5 230V232M488.5 232V234M489.5 234V236M490.5 236V238M491.5 238V240M492.5 240V241M493.5 241V243M494.5 243V245M495.5 245V246M496.5 246V248M497.5 248V249M498.5 249V251M499.5 251V253M500.5 253V254M501.5 254V255M502.5 255V256M503.5 255V256M504.5 255V256M505.5 255V256M506.5 256V257M507.5 256V257M508.5 256V257M509.5 257V258M510.5 257V258M511.5 258V259M512.5 258V259M513.5 258V259M514.5 259V260M515.5 259V260M516.5 260V261M517.5 261V262M518.5 261V262M519.5 262V263M520.5 263V264M521.5 264V265M522.5 265V266M523.5 265V266M524.5 266V267M525.5 267V268M526.5 268V269M527.5 269V270M528.5 270V271M529.5 271V272M530.5 272V273M531.5 273V274M532.5 273V274M533.5 274V275M534.5 275V276M535.5 276V277M536.5 277V278M537.5 278V279M538.5 279V280M539.5 280V281M540.5 281V282M541.5 282V283M542.5 283V284M543.5 284V285M544.5 284V285M545.5 285V286M546.5 286V287M547.5 286V287M548.5 287V288M549.5 287V288M550.5 287V288M551.5 288V289M552.5 288V289M553.5 288V289M554.5 289V290M555.5 289V290M556.5 289V290M557.5 289V290M558.5 289V290M559.5 289V290M560.5 290V291M561.5 290V291M562.5 290V291M563.5 290V291M564.5 290V291M565.5 290V291M566.5 290V291M567.5 289V290M568.5 289V290M569.5 289V290M570.5 288V289M571.5 288V289M572.5 288V289M573.5 287V288M574.5 287V288M575.5 287V288M576.5 287V288M577.5 287V288M578.5 287V288M579.5 287V288M580.5 287V288M581.5 287V288M582.5 287V288M583.5 287V288M584.5 287V288M585.5 287V288M586.5 288V289M587.5 288V289M588.5 288V289M589.5 288V289M590.5 288V289M591.5 288V289M592.5 289V290M593.5 289V290M594.5 290V291M595.5 290V291M596.5 291V292M597.5 291V292M598.5 292V293M599.5 292V293M600.5 293V294M601.5 293V294M602.5 293V294M603.5 294V295M604.5 294V295M605.5 295V296M606.5 295V296M607.5 296V297M608.5 296V297M609.5 297V298M610.5 297V298M611.5 298V299M612.5 298V299M613.5 298V299M614.5 298V299M615.5 298V299M616.5 298V299M617.5 298V299M618.5 298V299M619.5 298V299M620.5 298V299M621.5 298V299M622.5 298V299M623.5 298V299M624.5 298V299M625.5 298V299M626.5 298V299M627.5 299V300M628.5 300V301M629.5 300V301M630.5 301V302M631.5 302V303M632.5 303V304M633.5 303V304M634.5 304V305M635.5 305V306M636.5 306V307M637.5 306V307M638.5 307V308M639.5 308V309M640.5 309V310M641.5 310V311M642.5 311V312M643.5 312V313M644.5 312V313M645.5 313V314M646.5 314V315M647.5 315V316M648.5 315V316M649.5 316V317M650.5 317V318M651.5 317V318M652.5 318V319M653.5 319V320M654.5 319V320M655.5 320V321M656.5 320V321M657.5 321V322M658.5 321V322M659.5 322V323M660.5 322V323M661.5 323V324M662.5 323V324M663.5 324V325M664.5 324V325M665.5 325V326M666.5 325V326M667.5 325V326M668.5 325V326M669.5 325V326M670.5 326V327M671.5 326V327M672.5 326V327M673.5 326V327M674.5 326V327M675.5 326V327M676.5 326V327M677.5 326V327M678.5 325V326M679.5 325V326M680.5 324V325M681.5 324V325M682.5 323V324M683.5 322V323M684.5 322V323M685.5 321V322M686.5 320V321M687.5 319V320M688.5 318V319M689.5 317V318M690.5 316V317M691.5 315V316M692.5 314V315M693.5 313V314M694.5 313V314M695.5 312V313M696.5 311V312M697.5 310V311M698.5 310V311M699.5 310V311M700.5 309V310M701.5 309V310M702.5 308V309M703.5 308V309M704.5 307V308M705.5 307V308M706.5 307V308M707.5 307V308M708.5 307V308M709.5 307V308M710.5 306V307M711.5 306V307M712.5 305V306M713.5 304V305M714.5 303V304M715.5 302V303M716.5 301V302M717.5 300V301M718.5 300V301M719.5 299V300M720.5 298V299M721.5 298V299M722.5 297V298M723.5 296V297M724.5 295V296M725.5 295V296M726.5 294V295M727.5 293V294M728.5 293V294M729.5 292V293M730.5 292V293M731.5 292V293M732.5 291V292M733.5 291V292M734.5 291V292M735.5 291V292M736.5 291V292M737.5 291V292M738.5 291V292M739.5 291V292M740.5 291V292M741.5 291V292M742.5 291V292M743.5 292V293M744.5 292V293M745.5 292V293M746.5 292V293M747.5 293V294M748.5 293V294M749.5 293V294M750.5 294V295M751.5 294V295M752.5 294V295M753.5 295V296M754.5 295V296M755.5 296V297M756.5 296V297M757.5 297V298M758.5 297V298M759.5 298V299M760.5 299V300M761.5 299V300M762.5 300V301M763.5 301V302M764.5 302V303M765.5 303V304M766.5 304V305M767.5 305V306M768.5 306V307M769.5 307V308M770.5 308V309M771.5 309V311M772.5 311V312M773.5 312V314M774.5 314V315M775.5 315V316M776.5 316V318M777.5 318V320M778.5 320V321M779.5 321V323M780.5 323V325M781.5 325V326M782.5 326V328M783.5 328V330M784.5 330V331M785.5 331V332M786.5 332V334M787.5 334V335M788.5 335V336M789.5 336V338M790.5 338V339M791.5 339V341M792.5 341V343M793.5 343V344M794.5 344V346M795.5 346V347M796.5 347V349M797.5 349V351M798.5 351V353M799.5 353V354M800.5 354V356M801.5 356V358M802.5 358V360M803.5 360V361M804.5 361V363M805.5 363V364M806.5 364V366M807.5 366V367M808.5 367V368M809.5 368V370M810.5 370V371M811.5 371V372M812.5 372V374M813.5 374V375M814.5 375V376M815.5 376V377M816.5 377V379M817.5 379V380M818.5 380V381M819.5 381V383M820.5 383V384M821.5 384V385M822.5 385V386M823.5 386V387M824.5 387V388M825.5 388V389M826.5 389V390M827.5 390V391M828.5 391V392M829.5 392V393M830.5 393V394M831.5 394V395M832.5 395V396M833.5 396V397M834.5 397V398M835.5 397V398M836.5 398V399M837.5 399V400M838.5 400V401M839.5 401V402M840.5 402V403M841.5 402V403M842.5 403V404M843.5 403V404M844.5 404V405M845.5 404V405M846.5 404V405M847.5 405V406M848.5 405V406M849.5 405V406M850.5 406V407M851.5 406V407M852.5 407V408M853.5 407V408M854.5 408V409M855.5 408V409M856.5 408V409M857.5 408V409M858.5 408V409M859.5 408V409M860.5 408V409M861.5 408V409M862.5 408V409M863.5 408V409M864.5 408V409M865.5 408V409M866.5 408V409M867.5 407V408M868.5 407V408M869.5 407V408M870.5 407V408M871.5 407V408M872.5 407V408M873.5 407V408M874.5 407V408M875.5 407V408M876.5 407V408M877.5 407V408M878.5 407V408M879.5 407V408M880.5 407V408M881.5 407V408M882.5 407V408M883.5 407V408M884.5 407V408M885.5 407V408M886.5 407V408M887.5 407V408M888.5 407V408M889.5 407V408M890.5 407V408M891.5 407V408M892.5 407V408M893.5 407V408M894.5 407V408M895.5 407V408M896.5 407V408M897.5 407V408M898.5 407V408M899.5 407V408M900.5 407V408M901.5 407V408M902.5 407V408M903.5 407V408M904.5 407V408M905.5 407V408M906.5 407V408M907.5 407V408M908.5 407V408M909.5 407V408M910.5 407V408M911.5 407V408M912.5 407V408M913.5 407V408M914.5 407V408M915.5 407V408M916.5 407V408M917.5 407V408M918.5 407V408M919.5 408V409M920.5 408V409M921.5 408V409M922.5 409V410M923.5 410V411M924.5 411V412" fill="none" stroke="#0000d0" stroke-width="1" shape-rendering="crispEdges"/>
<path d="M5.5 151V152M6.5 151V152M7.5 152V153M8.5 152V153M9.5 153V154M10.5 153V154M11.5 152V153M12.5 152V153M13.5 152V153M14.5 151V152M15.5 150V151M16.5 148V150M17.5 147V148M18.5 146V147M19.5 145V146M20.5 144V145M21.5 142V144M22.5 141V142M23.5 140V141M24.5 139V140M25.5 138V139M26.5 137V138M27.5 135V137M28.5 134V135M29.5 133V134M30.5 132V133M31.5 131V132M32.5 130V131M33.5 128V130M34.5 127V128M35.5 126V127M36.5 126V127M37.5 125V126M38.5 124V125M39.5 124V125M40.5 124V125M41.5 124V125M42.5 124V125M43.5 124V125M44.5 125V126M45.5 126V127M46.5 126V127M47.5 127V128M48.5 128V129M49.5 128V129M50.5 129V130M51.5 129V130M52.5 130V131M53.5 130V131M54.5 130V131M55.5 131V132M56.5 131V132M57.5 132V133M58.5 133V134M59.5 134V135M60.5 135V136M61.5 136V137M62.5 137V138M63.5 138V140M64.5 140V141M65.5 141V143M66.5 143V144M67.5 144V145M68.5 145V147M69.5 147V149M70.5 149V151M71.5 151V154M72.5 154V156M73.5 156V159M74.5 159V161M75.5 161V163M76.5 163V166M77.5 166V168M78.5 168V170M79.5 170V173M80.5 173V175M81.5 175V177M82.5 177V179M83.5 179V181M84.5 181V183M85.5 183V185M86.5 185V187M87.5 187V189M88.5 189V191M89.5 191V193M90.5 193V195M91.5 195V197M92.5 197V199M93.5 199V201M94.5 201V203M95.5 203V204M96.5 204V206M97.5 206V208M98.5 208V210M99.5 210V211M100.5 211V213M101.5 213V215M102.5 215V216M103.5 216V218M104.5 218V220M105.5 220V221M106.5 221V223M107.5 223V224M108.5 224V226M109.5 226V227M110.5 227V228M111.5 228V229M112.5 229V230M113.5 230V231M114.5 231V232M115.5 232V233M116.5 233V234M117.5 234V235M118.5 235V236M119.5 235V236M120.5 236V237M121.5 236V237M122.5 237V238M123.5 237V238M124.5 238V239M125.5 238V239M126.5 239V240M127.5 239V240M128.5 240V241M129.5 240V241M130.5 241V242M131.5 242V243M132.5 243V244M133.5 244V245M134.5 245V246M135.5 245V246M136.5 246V247M137.5 247V248M138.5 248V249M139.5 249V251M140.5 251V253M141.5 253V255M142.5 255V257M143.5 257V259M144.5 259V261M145.5 261V263M146.5 263V265M147.5 265V267M148.5 267V269M149.5 269V271M150.5 271V273M151.5 273V275M152.5 275V277M153.5 277V278M154.5 278V279M155.5 279V280M156.5 280V281M157.5 281V283M158.5 283V284M159.5 284V285M160.5 285V286M161.5 286V288M162.5 288V289M163.5 289V290M164.5 290V291M165.5 291V293M166.5 293V294M167.5 294V295M168.5 295V296M169.5 296V297M170.5 297V298M171.5 297V298M172.5 298V299M173.5 299V300M174.5 299V300M175.5 299V300M176.5 299V300M177.5 299V300M178.5 299V300M179.5 299V300M180.5 299V300M181.5 299V300M182.5 298V299M183.5 298V299M184.5 297V298M185.5 297V298M186.5 296V297M187.5 295V297M188.5 294V295M189.5 293V294M190.5 292V293M191.5 291V292M192.5 290V291M193.5 289V290M194.5 287V289M195.5 286V287M196.5 285V286M197.5 282V285M198.5 280V282M199.5 278V280M200.5 276V278M201.5 274V276M202.5 272V274M203.5 269V272M204.5 267V269M205.5 265V267M206.5 263V265M207.5 261V263M208.5 259V261M209.5 256V259M210.5 254V256M211.5 251V254M212.5 249V251M213.5 246V249M214.5 244V246M215.5 242V244M216.5 239V242M217.5 237V239M218.5 235V237M219.5 233V235M220.5 230V233M221.5 228V230M222.5 226V228M223.5 223V226M224.5 221V223M225.5 219V221M226.5 218V219M227.5 216V218M228.5 214V216M229.5 212V214M230.5 210V212M231.5 209V210M232.5 207V209M233.5 205V207M234.5 204V205M235.5 202V204M236.5 201V202M237.5 199V201M238.5 197V199M239.5 196V197M240.5 194V196M241.5 193V194M242.5 191V193M243.5 189V191M244.5 188V189M245.5 186V188M246.5 184V186M247.5 183V184M248.5 181V183M249.5 180V181M250.5 178V180M251.5 177V178M252.5 176V177M253.5 175V176M254.5 174V175M255.5 173V174M256.5 171V173M257.5 170V171M258.5 169V170M259.5 168V169M260.5 167V168M261.5 166V167M262.5 166V167M263.5 165V166M264.5 164V165M265.5 163V164M266.5 162V163M267.5 162V163M268.5 162V163M269.5 162V163M270.5 162V163M271.5 162V163M272.5 162V163M273.5 162V163M274.5 162V163M275.5 162V163M276.5 162V163M277.5 161V162M278.5 160V162M279.5 159V160M280.5 158V159M281.5 157V158M282.5 155V157M283.5 154V155M284.5 153V154M285.5 152V153M286.5 151V152M287.5 150V151M288.5 149V150M289.5 148V149M290.5 147V148M291.5 146V147M292.5 146V147M293.5 146V147M294.5 145V146M295.5 145V146M296.5 145V146M297.5 145V146M298.5 144V145M299.5 144V145M300.5 144V145M301.5 144V145M302.5 144V145M303.5 144V145M304.5 144V145M305.5 143V144M306.5 143V144M307.5 143V144M308.5 143V144M309.5 142V143M310.5 141V142M311.5 140V141M312.5 139V140M313.5 138V139M314.5 136V138M315.5 135V136M316.5 133V135M317.5 132V133M318.5 130V132M319.5 129V130M320.5 127V129M321.5 125V127M322.5 124V125M323.5 122V124M324.5 120V122M325.5 118V120M326.5 116V118M327.5 114V116M328.5 113V114M329.5 111V113M330.5 109V111M331.5 108V109M332.5 106V108M333.5 105V106M334.5 105V106M335.5 104V105M336.5 103V104M337.5 103V104M338.5 102V103M339.5 102V103M340.5 101V102M341.5 101V102M342.5 100V101M343.5 100V101M344.5 100V101M345.5 99V100M346.5 99V100M347.5 99V100M348.5 99V100M349.5 99V100M350.5 98V99M351.5 97V98M352.5 95V97M353.5 94V95M354.5 93V94M355.5 92V93M356.5 90V92M357.5 89V90M358.5 88V89M359.5 87V88M360.5 86V87M361.5 85V86M362.5 84V85M363.5 83V84M364.5 82V83M365.5 82V83M366.5 81V82M367.5 80V81M368.5 80V81M369.5 80V81M370.5 80V81M371.5 81V82M372.5 81V82M373.5 81V82M374.5 82V83M375.5 82V83M376.5 83V84M377.5 84V85M378.5 84V85M379.5 85V86M380.5 86V87M381.5 86V87M382.5 86V87M383.5 86V87M384.5 86V87M385.5 86V87M386.5 85V86M387.5 85V86M388.5 86V87M389.5 86V87M390.5 86V87M391.5 87V88M392.5 87V88M393.5 87V88M394.5 88V89M395.5 88V89M396.5 88V89M397.5 88V89M398.5 89V90M399.5 90V91M400.5 91V92M401.5 92V93M402.5 93V94M403.5 94V95M404.5 95V96M405.5 95V96M406.5 96V97M407.5 97V98M408.5 98V99M409.5 98V99M410.5 99V100M411.5 100V101M412.5 100V101M413.5 101V102M414.5 102V103M415.5 103V105M416.5 105V107M417.5 107V110M418.5 110V112M419.5 112V114M420.5 114V117M421.5 117V120M422.5 120V123M423.5 123V125M424.5 125V128M425.5 128V131M426.5 131V134M427.5 134V137M428.5 137V139M429.5 139V142M430.5 142V144M431.5 144V146M432.5 146V148M433.5 148V150M434.5 150V152M435.5 152V155M436.5 155V157M437.5 157V160M438.5 160V162M439.5 162V164M440.5 164V167M441.5 167V169M442.5 169V172M443.5 172V174M444.5 174V177M445.5 177V180M446.5 180V183M447.5 183V186M448.5 186V188M449.5 188V191M450.5 191V194M451.5 194V197M452.5 197V199M453.5 199V201M454.5 201V203M455.5 203V205M456.5 205V206M457.5 206V208M458.5 208V210M459.5 210V211M460.5 211V213M461.5 213V216M462.5 216V218M463.5 218V220M464.5 220V223M465.5 223V225M466.5 225V227M467.5 227V230M468.5 230V233M469.5 233V235M470.5 235V238M471.5 238V241M472.5 241V243M473.5 243V244M474.5 243V244M475.5 244V245M476.5 244V245M477.5 245V246M478.5 245V246M479.5 246V247M480.5 246V247M481.5 247V248M482.5 247V248M483.5 247V248M484.5 247V248M485.5 248V249M486.5 248V249M487.5 249V250M488.5 250V251M489.5 251V252M490.5 252V253M491.5 253V254M492.5 254V255M493.5 255V256M494.5 255V256M495.5 256V257M496.5 257V258M497.5 258V259M498.5 259V260M499.5 260V261M500.5 260V261M501.5 261V262M502.5 262V263M503.5 263V264M504.5 263V264M505.5 264V265M506.5 265V266M507.5 266V267M508.5 266V267M509.5 267V268M510.5 268V270M511.5 270V271M512.5 271V272M513.5 272V273M514.5 273V274M515.5 274V275M516.5 275V276M517.5 275V276M518.5 276V277M519.5 276V277M520.5 277V278M521.5 277V278M522.5 278V279M523.5 278V279M524.5 279V280M525.5 279V280M526.5 280V281M527.5 280V281M528.5 281V282M529.5 281V282M530.5 282V283M531.5 282V283M532.5 283V284M533.5 284V285M534.5 285V286M535.5 285V286M536.5 286V287M537.5 287V288M538.5 287V288M539.5 288V289M540.5 288V289M541.5 289V290M542.5 289V290M543.5 290V291M544.5 290V291M545.5 291V292M546.5 291V292M547.5 292V293M548.5 292V293M549.5 293V294M550.5 293V294M551.5 294V295M552.5 294V295M553.5 295V296M554.5 295V296M555.5 296V297M556.5 296V297M557.5 296V297M558.5 297V298M559.5 297V298M560.5 297V298M561.5 297V298M562.5 297V298M563.5 297V298M564.5 297V298M565.5 296V297M566.5 296V297M567.5 295V296M568.5 295V296M569.5 294V295M570.5 294V295M571.5 293V294M572.5 293V294M573.5 292V293M574.5 292V293M575.5 292V293M576.5 291V292M577.5 291V292M578.5 290V291M579.5 290V291M580.5 289V290M581.5 289V290M582.5 288V289M583.5 287V288M584.5 287V288M585.5 286V287M586.5 286V287M587.5 285V286M588.5 285V286M589.5 285V286M590.5 285V286M591.5 285V286M592.5 286V287M593.5 286V287M594.5 287V288M595.5 287V288M596.5 288V289M597.5 288V289M598.5 289V290M599.5 290V291M600.5 290V291M601.5 291V292M602.5 291V292M603.5 292V293M604.5 293V294M605.5 293V294M606.5 294V295M607.5 294V295M608.5 294V295M609.5 295V296M610.5 295V296M611.5 295V296M612.5 296V297M613.5 296V297M614.5 297V298M615.5 297V298M616.5 297V298M617.5 298V299M618.5 298V299M619.5 298V299M620.5 299V300M621.5 299V300M622.5 299V300M623.5 300V301M624.5 300V301M625.5 300V301M626.5 301V302M627.5 302V304M628.5 304V306M629.5 306V308M630.5 308V310M631.5 310V311M632.5 311V313M633.5 313V315M634.5 315V318M635.5 318V320M636.5 320V322M637.5 322V324M638.5 324V326M639.5 326V327M640.5 327V328M641.5 328V329M642.5 329V330M643.5 329V330M644.5 330V331M645.5 331V332M646.5 332V333M647.5 332V333M648.5 332V333M649.5 333V334M650.5 333V334M651.5 333V334M652.5 333V334M653.5 333V334M654.5 333V334M655.5 333V334M656.5 333V334M657.5 333V334M658.5 333V334M659.5 333V334M660.5 333V334M661.5 332V333M662.5 332V333M663.5 332V333M664.5 332V333M665.5 331V332M666.5 331V332M667.5 331V332M668.5 331V332M669.5 330V331M670.5 330V331M671.5 329V330M672.5 329V330M673.5 329V330M674.5 328V329M675.5 328V329M676.5 328V329M677.5 327V328M678.5 326V327M679.5 326V327M680.5 325V326M681.5 324V325M682.5 323V324M683.5 322V323M684.5 321V322M685.5 319V321M686.5 318V319M687.5 316V318M688.5 315V316M689.5 313V315M690.5 312V313M691.5 310V312M692.5 308V310M693.5 306V308M694.5 304V306M695.5 303V304M696.5 301V303M697.5 299V301M698.5 298V299M699.5 296V298M700.5 295V296M701.5 293V295M702.5 292V293M703.5 291V292M704.5 290V291M705.5 289V290M706.5 287V289M707.5 286V287M708.5 285V286M709.5 284V285M710.5 284V285M711.5 283V284M712.5 283V284M713.5 282V283M714.5 282V283M715.5 282V283M716.5 281V282M717.5 281V282M718.5 281V282M719.5 280V281M720.5 280V281M721.5 280V281M722.5 280V281M723.5 280V281M724.5 280V281M725.5 280V281M726.5 280V281M727.5 280V281M728.5 279V280M729.5 279V280M730.5 279V280M731.5 280V281M732.5 280V281M733.5 281V282M734.5 281V282M735.5 282V283M736.5 283V284M737.5 284V285M738.5 285V286M739.5 286V288M740.5 288V289M741.5 289V291M742.5 291V292M743.5 292V294M744.5 294V295M745.5 295V297M746.5 297V298M747.5 298V299M748.5 299V301M749.5 301V302M750.5 302V303M751.5 303V305M752.5 305V306M753.5 306V307M754.5 307V308M755.5 308V310M756.5 310V311M757.5 311V312M758.5 312V313M759.5 313V314M760.5 314V315M761.5 315V316M762.5 316V317M763.5 317V318M764.5 318V320M765.5 320V321M766.5 321V322M767.5 322V323M768.5 323V324M769.5 324V325M770.5 325V326M771.5 326V328M772.5 328V329M773.5 329V330M774.5 330V332M775.5 332V334M776.5 334V336M777.5 336V338M778.5 338V340M779.5 340V343M780.5 343V345M781.5 345V348M782.5 348V350M783.5 350V352M784.5 352V354M785.5 354V355M786.5 355V357M787.5 357V358M788.5 358V359M789.5 359V361M790.5 361V362M791.5 362V363M792.5 363V364M793.5 364V366M794.5 366V367M795.5 367V368M796.5 368V369M797.5 369V371M798.5 371V373M799.5 373V374M800.5 374V376M801.5 376V378M802.5 378V380M803.5 380V381M804.5 381V383M805.5 383V385M806.5 385V386M807.5 386V388M808.5 388V390M809.5 390V391M810.5 391V393M811.5 393V394M812.5 394V395M813.5 395V397M814.5 397V398M815.5 398V400M816.5 400V401M817.5 401V403M818.5 403V404M819.5 404V405M820.5 405V406M821.5 406V408M822.5 408V409M823.5 409V410M824.5 410V411M825.5 411V412M826.5 412V413M827.5 413V414M828.5 414V415M829.5 415V416M830.5 416V417M831.5 417V418M832.5 418V419M833.5 418V419M834.5 418V419M835.5 417V418M836.5 417V418M837.5 417V418M838.5 417V418M839.5 417V418M840.5 416V417M841.5 416V417M842.5 416V417M843.5 416V417M844.5 416V417M845.5 415V416M846.5 415V416M847.5 415V416M848.5 415V416M849.5 414V415M850.5 414V415M851.5 414V415M852.5 413V414M853.5 413V414M854.5 412V413M855.5 411V412M856.5 410V411M857.5 409V410M858.5 408V409M859.5 407V408M860.5 406V407M861.5 406V407M862.5 406V407M863.5 405V406M864.5 405V406M865.5 405V406M866.5 404V405M867.5 404V405M868.5 403V404M869.5 403V404M870.5 402V403M871.5 402V403M872.5 401V402M873.5 401V402M874.5 400V401M875.5 400V401M876.5 399V400M877.5 399V400M878.5 399V400M879.5 399V400M880.5 399V400M881.5 399V400M882.5 399V400M883.5 399V400M884.5 399V400M885.5 399V400M886.5 399V400M887.5 399V400M888.5 399V400M889.5 399V400M890.5 399V400M891.5 399V400M892.5 400V401M893.5 400V401M894.5 400V401M895.5 401V402M896.5 401V402M897.5 402V403M898.5 402V403M899.5 403V404M900.5 403V404M901.5 404V405M902.5 405V406M903.5 406V407M904.5 407V408M905.5 408V409M906.5 409V410M907.5 409V410M908.5 410V411M909.5 411V412M910.5 411V412M911.5 412V413M912.5 412V413M913.5 413V414M914.5 414V415M915.5 414V415M916.5 415V416M917.5 416V417M918.5 416V417M919.5 417V418M920.5 418V419M921.5 419V420M922.5 420V421M923.5 421V422M924.5 422V423" fill="none" stroke="#ff0000" stroke-width="1" shape-rendering="crispEdges"/>
<path d="M5.5 537V538M6.5 536V537M7.5 536V537M8.5 535V536M9.5 535V536M10.5 534V535M11.5 534V535M12.5 533V534M13.5 533V534M14.5 533V534M15.5 532V533M16.5 532V533M17.5 532V533M18.5 532V533M19.5 531V532M20.5 531V532M21.5 531V532M22.5 531V532M23.5 530V531M24.5 530V531M25.5 530V531M26.5 529V530M27.5 529V530M28.5 529V530M29.5 528V529M30.5 528V529M31.5 528V529M32.5 527V528M33.5 527V528M34.5 527V528M35.5 526V527M36.5 526V527M37.5 526V527M38.5 526V527M39.5 525V526M40.5 525V526M41.5 525V526M42.5 524V525M43.5 524V525M44.5 524V525M45.5 524V525M46.5 523V524M47.5 523V524M48.5 523V524M49.5 523V524M50.5 523V524M51.5 523V524M52.5 523V524M53.5 523V524M54.5 523V524M55.5 523V524M56.5 523V524M57.5 523V524M58.5 523V524M59.5 523V524M60.5 523V524M61.5 523V524M62.5 524V525M63.5 524V525M64.5 525V526M65.5 525V526M66.5 526V527M67.5 526V527M68.5 527V528M69.5 528V529M70.5 528V529M71.5 529V530M72.5 530V531M73.5 531V532M74.5 532V533M75.5 533V534M76.5 534V535M77.5 535V536M78.5 536V537M79.5 537V538M80.5 538V539M81.5 539V541M82.5 541V542M83.5 542V543M84.5 543V544M85.5 543V544M86.5 544V545M87.5 545V546M88.5 546V547M89.5 547V548M90.5 548V549M91.5 549V550M92.5 549V550M93.5 550V551M94.5 551V552M95.5 551V552M96.5 552V553M97.5 553V554M98.5 553V554M99.5 554V555M100.5 554V555M101.5 555V556M102.5 555V556M103.5 555V556M104.5 556V557M105.5 556V557M106.5 556V557M107.5 556V557M108.5 556V557M109.5 556V557M110.5 556V557M111.5 556V557M112.5 556V557M113.5 556V557M114.5 556V557M115.5 556V557M116.5 556V557M117.5 556V557M118.5 555V556M119.5 555V556M120.5 555V556M121.5 555V556M122.5 555V556M123.5 554V555M124.5 554V555M125.5 554V555M126.5 554V555M127.5 554V555M128.5 554V555M129.5 554V555M130.5 554V555M131.5 554V555M132.5 554V555M133.5 554V555M134.5 554V555M135.5 554V555M136.5 554V555M137.5 554V555M138.5 554V555M139.5 555V556M140.5 555V556M141.5 555V556M142.5 555V556M143.5 555V556M144.5 555V556M145.5 555V556M146.5 556V557M147.5 556V557M148.5 557V558M149.5 557V558M150.5 557V558M151.5 558V559M152.5 558V559M153.5 559V560M154.5 559V560M155.5 559V560M156.5 560V561M157.5 560V561M158.5 560V561M159.5 561V562M160.5 561V562M161.5 561V562M162.5 562V563M163.5 562V563M164.5 562V563M165.5 562V563M166.5 562V563M167.5 563V564M168.5 563V564M169.5 563V564M170.5 563V564M171.5 563V564M172.5 562V563M173.5 562V563M174.5 562V563M175.5 562V563M176.5 561V562M177.5 561V562M178.5 560V561M179.5 560V561M180.5 559V560M181.5 559V560M182.5 558V559M183.5 558V559M184.5 557V558M185.5 556V557M186.5 555V556M187.5 555V556M188.5 554V555M189.5 553V554M190.5 552V553M191.5 552V553M192.5 551V552M193.5 550V551M194.5 549V550M195.5 548V549M196.5 547V548M197.5 546V547M198.5 545V546M199.5 543V545M200.5 542V543M201.5 541V542M202.5 540V541M203.5 539V540M204.5 538V539M205.5 537V538M206.5 536V537M207.5 534V536M208.5 533V534M209.5 532V533M210.5 531V532M211.5 530V531M212.5 529V530M213.5 528V529M214.5 527V528M215.5 526V527M216.5 525V526M217.5 524V525M218.5 523V524M219.5 522V523M220.5 521V522M221.5 520V521M222.5 519V520M223.5 519V520M224.5 518V519M225.5 517V518M226.5 516V517M227.5 515V516M228.5 514V515M229.5 513V514M230.5 513V514M231.5 512V513M232.5 511V512M233.5 510V511M234.5 510V511M235.5 509V510M236.5 508V509M237.5 508V509M238.5 507V508M239.5 506V507M240.5 505V506M241.5 505V506M242.5 504V505M243.5 503V504M244.5 503V504M245.5 502V503M246.5 501V502M247.5 501V502M248.5 500V501M249.5 500V501M250.5 499V500M251.5 498V499M252.5 498V499M253.5 498V499M254.5 497V498M255.5 497V498M256.5 497V498M257.5 497V498M258.5 496V497M259.5 496V497M260.5 496V497M261.5 496V497M262.5 496V497M263.5 496V497M264.5 496V497M265.5 496V497M266.5 496V497M267.5 496V497M268.5 496V497M269.5 497V498M270.5 497V498M271.5 497V498M272.5 497V498M273.5 498V499M274.5 498V499M275.5 498V499M276.5 498V499M277.5 499V500M278.5 499V500M279.5 499V500M280.5 499V500M281.5 500V501M282.5 500V501M283.5 500V501M284.5 500V501M285.5 500V501M286.5 500V501M287.5 500V501M288.5 501V502M289.5 501V502M290.5 501V502M291.5 501V502M292.5 501V502M293.5 501V502M294.5 501V502M295.5 501V502M296.5 501V502M297.5 501V502M298.5 501V502M299.5 501V502M300.5 501V502M301.5 501V502M302.5 501V502M303.5 501V502M304.5 501V502M305.5 501V502M306.5 500V501M307.5 500V501M308.5 500V501M309.5 500V501M310.5 500V501M311.5 500V501M312.5 499V500M313.5 499V500M314.5 499V500M315.5 499V500M316.5 499V500M317.5 499V500M318.5 499V500M319.5 498V499M320.5 498V499M321.5 498V499M322.5 498V499M323.5 498V499M324.5 498V499M325.5 498V499M326.5 498V499M327.5 498V499M328.5 498V499M329.5 498V499M330.5 498V499M331.5 498V499M332.5 497V498M333.5 497V498M334.5 497V498M335.5 497V498M336.5 497V498M337.5 497V498M338.5 497V498M339.5 497V498M340.5 496V497M341.5 496V497M342.5 496V497M343.5 496V497M344.5 496V497M345.5 496V497M346.5 496V497M347.5 496V497M348.5 496V497M349.5 496V497M350.5 496V497M351.5 496V497M352.5 496V497M353.5 496V497M354.5 496V497M355.5 496V497M356.5 496V497M357.5 496V497M358.5 497V498M359.5 497V498M360.5 497V498M361.5 497V498M362.5 498V499M363.5 498V499M364.5 498V499M365.5 498V499M366.5 498V499M367.5 498V499M368.5 499V500M369.5 499V500M370.5 499V500M371.5 499V500M372.5 499V500M373.5 499V500M374.5 500V501M375.5 500V501M376.5 500V501M377.5 501V502M378.5 501V502M379.5 502V503M380.5 502V503M381.5 503V504M382.5 503V504M383.5 503V504M384.5 504V505M385.5 504V505M386.5 505V506M387.5 505V506M388.5 505V506M389.5 506V507M390.5 506V507M391.5 506V507M392.5 507V508M393.5 507V508M394.5 507V508M395.5 508V509M396.5 508V509M397.5 509V510M398.5 509V510M399.5 510V511M400.5 511V512M401.5 511V512M402.5 512V513M403.5 512V513M404.5 513V514M405.5 513V514M406.5 514V515M407.5 514V515M408.5 515V516M409.5 515V516M410.5 516V517M411.5 516V517M412.5 517V518M413.5 517V518M414.5 518V519M415.5 519V520M416.5 519V520M417.5 520V521M418.5 520V521M419.5 521V522M420.5 522V523M421.5 523V524M422.5 524V525M423.5 525V526M424.5 526V527M425.5 527V528M426.5 528V529M427.5 529V530M428.5 530V532M429.5 532V533M430.5 533V534M431.5 534V536M432.5 536V537M433.5 537V538M434.5 538V540M435.5 540V541M436.5 540V541M437.5 541V542M438.5 542V543M439.5 543V544M440.5 544V545M441.5 545V546M442.5 546V547M443.5 547V548M444.5 548V549M445.5 549V550M446.5 550V551M447.5 551V552M448.5 552V553M449.5 553V554M450.5 554V555M451.5 555V556M452.5 556V557M453.5 557V558M454.5 558V559M455.5 559V560M456.5 560V561M457.5 560V561M458.5 560V561M459.5 561V562M460.5 561V562M461.5 561V562M462.5 562V563M463.5 562V563M464.5 562V563M465.5 563V564M466.5 563V564M467.5 563V564M468.5 563V564M469.5 563V564M470.5 563V564M471.5 563V564M472.5 563V564M473.5 563V564M474.5 563V564M475.5 563V564M476.5 563V564M477.5 564V565M478.5 564V565M479.5 564V565M480.5 564V565M481.5 564V565M482.5 564V565M483.5 564V565M484.5 564V565M485.5 564V565M486.5 564V565M487.5 564V565M488.5 564V565M489.5 564V565M490.5 564V565M491.5 564V565M492.5 564V565M493.5 565V566M494.5 565V566M495.5 565V566M496.5 565V566M497.5 565V566M498.5 564V565M499.5 564V565M500.5 564V565M501.5 563V564M502.5 563V564M503.5 563V564M504.5 562V563M505.5 562V563M506.5 562V563M507.5 562V563M508.5 562V563M509.5 562V563M510.5 562V563M511.5 561V562M512.5 561V562M513.5 561V562M514.5 561V562M515.5 561V562M516.5 561V562M517.5 560V561M518.5 560V561M519.5 560V561M520.5 560V561M521.5 559V560M522.5 559V560M523.5 559V560M524.5 558V559M525.5 558V559M526.5 558V559M527.5 557V558M528.5 557V558M529.5 557V558M530.5 557V558M531.5 557V558M532.5 556V557M533.5 556V557M534.5 556V557M535.5 556V557M536.5 556V557M537.5 556V557M538.5 556V557M539.5 556V557M540.5 555V556M541.5 555V556M542.5 555V556M543.5 555V556M544.5 555V556M545.5 555V556M546.5 555V556M547.5 555V556M548.5 554V555M549.5 554V555M550.5 554V555M551.5 554V555M552.5 554V555M553.5 554V555M554.5 553V554M555.5 553V554M556.5 553V554M557.5 553V554M558.5 553V554M559.5 552V553M560.5 552V553M561.5 552V553M562.5 552V553M563.5 551V552M564.5 551V552M565.5 550V551M566.5 550V551M567.5 550V551M568.5 549V550M569.5 549V550M570.5 548V549M571.5 548V549M572.5 547V548M573.5 547V548M574.5 546V547M575.5 546V547M576.5 545V546M577.5 545V546M578.5 544V545M579.5 543V544M580.5 543V544M581.5 542V543M582.5 541V542M583.5 541V542M584.5 540V541M585.5 539V540M586.5 539V540M587.5 538V539M588.5 537V538M589.5 537V538M590.5 536V537M591.5 536V537M592.5 535V536M593.5 535V536M594.5 535V536M595.5 534V535M596.5 534V535M597.5 534V535M598.5 534V535M599.5 534V535M600.5 534V535M601.5 534V535M602.5 534V535M603.5 534V535M604.5 534V535M605.5 534V535M606.5 534V535M607.5 534V535M608.5 534V535M609.5 534V535M610.5 535V536M611.5 535V536M612.5 535V536M613.5 536V537M614.5 536V537M615.5 536V537M616.5 537V538M617.5 537V538M618.5 538V539M619.5 538V539M620.5 538V539M621.5 539V540M622.5 539V540M623.5 539V540M624.5 539V540M625.5 540V541M626.5 540V541M627.5 540V541M628.5 540V541M629.5 540V541M630.5 540V541M631.5 541V542M632.5 541V542M633.5 541V542M634.5 541V542M635.5 541V542M636.5 541V542M637.5 542V543M638.5 542V543M639.5 542V543M640.5 542V543M641.5 542V543M642.5 543V544M643.5 543V544M644.5 543V544M645.5 543V544M646.5 543V544M647.5 543V544M648.5 543V544M649.5 543V544M650.5 543V544M651.5 543V544M652.5 543V544M653.5 543V544M654.5 543V544M655.5 543V544M656.5 543V544M657.5 543V544M658.5 544V545M659.5 544V545M660.5 544V545M661.5 544V545M662.5 544V545M663.5 544V545M664.5 543V544M665.5 543V544M666.5 543V544M667.5 543V544M668.5 542V543M669.5 542V543M670.5 541V542M671.5 541V542M672.5 540V541M673.5 540V541M674.5 539V540M675.5 539V540M676.5 538V539M677.5 538V539M678.5 537V538M679.5 537V538M680.5 536V537M681.5 535V536M682.5 535V536M683.5 534V535M684.5 533V534M685.5 533V534M686.5 532V533M687.5 531V532M688.5 531V532M689.5 530V531M690.5 529V530M691.5 528V529M692.5 528V529M693.5 527V528M694.5 526V527M695.5 525V526M696.5 525V526M697.5 524V525M698.5 523V524M699.5 523V524M700.5 522V523M701.5 521V522M702.5 521V522M703.5 520V521M704.5 520V521M705.5 519V520M706.5 518V519M707.5 518V519M708.5 518V519M709.5 517V518M710.5 517V518M711.5 516V517M712.5 516V517M713.5 516V517M714.5 515V516M715.5 515V516M716.5 515V516M717.5 515V516M718.5 515V516M719.5 515V516M720.5 515V516M721.5 515V516M722.5 515V516M723.5 515V516M724.5 515V516M725.5 515V516M726.5 515V516M727.5 515V516M728.5 515V516M729.5 516V517M730.5 516V517M731.5 516V517M732.5 516V517M733.5 517V518M734.5 517V518M735.5 517V518M736.5 517V518M737.5 518V519M738.5 518V519M739.5 519V520M740.5 519V520M741.5 520V521M742.5 520V521M743.5 520V521M744.5 521V522M745.5 521V522M746.5 522V523M747.5 523V524M748.5 523V524M749.5 524V525M750.5 524V525M751.5 525V526M752.5 525V526M753.5 526V527M754.5 527V528M755.5 527V528M756.5 528V529M757.5 528V529M758.5 529V530M759.5 530V531M760.5 530V531M761.5 531V532M762.5 531V532M763.5 532V533M764.5 532V533M765.5 533V534M766.5 533V534M767.5 534V535M768.5 534V535M769.5 535V536M770.5 535V536M771.5 535V536M772.5 536V537M773.5 536V537M774.5 537V538M775.5 537V538M776.5 537V538M777.5 538V539M778.5 538V539M779.5 539V540M780.5 539V540M781.5 540V541M782.5 540V541M783.5 541V542M784.5 541V542M785.5 542V543M786.5 542V543M787.5 543V544M788.5 543V544M789.5 543V544M790.5 544V545M791.5 544V545M792.5 545V546M793.5 545V546M794.5 546V547M795.5 546V547M796.5 547V548M797.5 548V549M798.5 548V549M799.5 549V550M800.5 549V550M801.5 550V551M802.5 551V552M803.5 551V552M804.5 552V553M805.5 553V554M806.5 553V554M807.5 554V555M808.5 554V555M809.5 555V556M810.5 555V556M811.5 555V556M812.5 556V557M813.5 556V557M814.5 556V557M815.5 556V557M816.5 556V557M817.5 557V558M818.5 557V558M819.5 557V558M820.5 557V558M821.5 557V558M822.5 557V558M823.5 557V558M824.5 557V558M825.5 557V558M826.5 557V558M827.5 557V558M828.5 557V558M829.5 557V558M830.5 557V558M831.5 557V558M832.5 557V558M833.5 557V558M834.5 557V558M835.5 556V557M836.5 556V557M837.5 556V557M838.5 556V557M839.5 555V556M840.5 555V556M841.5 555V556M842.5 554V555M843.5 554V555M844.5 553V554M845.5 553V554M846.5 553V554M847.5 552V553M848.5 552V553M849.5 551V552M850.5 551V552M851.5 550V551M852.5 550V551M853.5 549V550M854.5 548V549M855.5 548V549M856.5 547V548M857.5 547V548M858.5 546V547M859.5 545V546M860.5 545V546M861.5 544V545M862.5 544V545M863.5 543V544M864.5 543V544M865.5 542V543M866.5 542V543M867.5 541V542M868.5 541V542M869.5 540V541M870.5 540V541M871.5 539V540M872.5 539V540M873.5 538V539M874.5 538V539M875.5 537V538M876.5 537V538M877.5 536V537M878.5 536V537M879.5 535V536M880.5 535V536M881.5 535V536M882.5 534V535M883.5 534V535M884.5 534V535M885.5 534V535M886.5 534V535M887.5 534V535M888.5 534V535M889.5 534V535M890.5 534V535M891.5 534V535M892.5 534V535M893.5 534V535M894.5 534V535M895.5 534V535M896.5 534V535M897.5 534V535M898.5 534V535M899.5 534V535M900.5 534V535M901.5 534V535M902.5 534V535M903.5 534V535M904.5 534V535M905.5 534V535M906.5 535V536M907.5 535V536M908.5 535V536M909.5 535V536M910.5 535V536M911.5 535V536M912.5 535V536M913.5 536V537M914.5 536V537M915.5 536V537M916.5 536V537M917.5 536V537M918.5 536V537M919.5 536V537M920.5 537V538M921.5 537V538M922.5 537V538M923.5 537V538M924.5 537V538" fill="none" stroke="#ff0000" stroke-width="1" shape-rendering="crispEdges"/>
<g shape-rendering="crispEdges">
<line x1="6" y1="600.5" x2="1167" y2="600.5" stroke="#c0c0c0" stroke-width="1" stroke-dasharray="3 3"/>
<line x1="6" y1="635.5" x2="1167" y2="635.5" stroke="#c0c0c0" stroke-width="1" stroke-dasharray="3 3"/>
</g>
<path d="M5.5 616V618M6.5 618V620M7.5 620V623M8.5 623V625M9.5 625V626M10.5 624V625M11.5 623V624M12.5 621V623M13.5 620V621M14.5 618V620M15.5 617V618M16.5 616V617M17.5 615V616M18.5 615V616M19.5 615V616M20.5 615V616M21.5 616V617M22.5 615V616M23.5 615V616M24.5 614V615M25.5 614V615M26.5 613V614M27.5 613V614M28.5 612V613M29.5 612V613M30.5 613V614M31.5 614V615M32.5 615V616M33.5 615V616M34.5 613V615M35.5 611V613M36.5 610V611M37.5 609V610M38.5 610V612M39.5 612V613M40.5 613V615M41.5 615V616M42.5 616V618M43.5 618V619M44.5 619V620M45.5 620V621M46.5 621V622M47.5 621V622M48.5 622V623M49.5 622V623M50.5 622V623M51.5 622V623M52.5 622V623M53.5 622V623M54.5 621V622M55.5 621V622M56.5 621V622M57.5 621V622M58.5 621V622M59.5 622V623M60.5 622V623M61.5 623V625M62.5 625V627M63.5 627V629M64.5 629V631M65.5 631V633M66.5 631V632M67.5 631V632M68.5 631V632M69.5 631V632M70.5 631V632M71.5 632V633M72.5 633V634M73.5 633V634M74.5 633V634M75.5 632V633M76.5 632V633M77.5 631V632M78.5 631V632M79.5 630V631M80.5 630V631M81.5 629V630M82.5 628V629M83.5 626V628M84.5 625V626M85.5 624V625M86.5 624V625M87.5 624V625M88.5 624V625M89.5 625V626M90.5 624V625M91.5 624V625M92.5 624V625M93.5 624V625M94.5 624V625M95.5 625V626M96.5 625V626M97.5 626V627M98.5 626V627M99.5 627V628M100.5 627V628M101.5 628V629M102.5 627V628M103.5 627V628M104.5 627V628M105.5 627V628M106.5 626V627M107.5 625V626M108.5 625V626M109.5 624V625M110.5 625V626M111.5 625V626M112.5 625V626M113.5 626V627M114.5 626V627M115.5 626V627M116.5 626V627M117.5 626V627M118.5 625V626M119.5 624V625M120.5 624V625M121.5 623V624M122.5 624V625M123.5 625V626M124.5 626V627M125.5 627V628M126.5 628V629M127.5 629V630M128.5 629V630M129.5 630V631M130.5 631V632M131.5 632V633M132.5 633V634M133.5 633V634M134.5 633V634M135.5 633V634M136.5 632V633M137.5 632V633M138.5 632V633M139.5 632V633M140.5 632V633M141.5 632V633M142.5 632V633M143.5 632V633M144.5 632V633M145.5 633V634M146.5 633V634M147.5 634V635M148.5 635V636M149.5 635V636M150.5 635V636M151.5 635V636M152.5 634V635M153.5 633V634M154.5 632V634M155.5 631V632M156.5 630V631M157.5 629V630M158.5 629V630M159.5 629V630M160.5 629V630M161.5 629V630M162.5 629V630M163.5 629V630M164.5 630V631M165.5 629V630M166.5 627V629M167.5 626V627M168.5 624V626M169.5 623V624M170.5 622V623M171.5 621V622M172.5 620V621M173.5 620V621M174.5 619V620M175.5 618V619M176.5 617V618M177.5 616V617M178.5 615V616M179.5 614V615M180.5 614V615M181.5 613V614M182.5 613V614M183.5 613V614M184.5 614V615M185.5 614V615M186.5 614V615M187.5 613V614M188.5 613V614M189.5 613V614M190.5 613V614M191.5 613V614M192.5 613V614M193.5 613V614M194.5 612V613M195.5 611V612M196.5 610V611M197.5 609V610M198.5 608V609M199.5 607V608M200.5 607V608M201.5 606V607M202.5 606V607M203.5 606V607M204.5 607V608M205.5 607V608M206.5 607V608M207.5 606V607M208.5 606V607M209.5 606V607M210.5 606V607M211.5 606V607M212.5 606V607M213.5 605V606M214.5 605V606M215.5 604V605M216.5 603V604M217.5 602V603M218.5 602V603M219.5 601V602M220.5 600V601M221.5 600V601M222.5 600V601M223.5 600V601M224.5 600V601M225.5 601V602M226.5 602V603M227.5 603V604M228.5 604V605M229.5 605V606M230.5 604V605M231.5 603V604M232.5 602V603M233.5 601V602M234.5 600V601M235.5 600V601M236.5 599V600M237.5 599V600M238.5 599V600M239.5 599V600M240.5 600V601M241.5 600V601M242.5 600V601M243.5 601V602M244.5 601V602M245.5 601V602M246.5 601V602M247.5 601V602M248.5 600V601M249.5 600V601M250.5 599V600M251.5 599V600M252.5 599V600M253.5 600V602M254.5 602V606M255.5 606V609M256.5 609V612M257.5 612V613M258.5 613V614M259.5 613V614M260.5 614V615M261.5 613V614M262.5 613V614M263.5 612V613M264.5 611V612M265.5 610V611M266.5 611V613M267.5 613V614M268.5 614V615M269.5 615V616M270.5 616V617M271.5 616V617M272.5 617V618M273.5 616V617M274.5 615V617M275.5 614V615M276.5 613V614M277.5 611V613M278.5 609V611M279.5 606V609M280.5 605V606M281.5 604V605M282.5 603V604M283.5 603V604M284.5 603V604M285.5 603V604M286.5 603V604M287.5 603V604M288.5 603V604M289.5 603V604M290.5 603V604M291.5 603V604M292.5 603V604M293.5 604V606M294.5 606V609M295.5 609V612M296.5 612V614M297.5 614V615M298.5 615V616M299.5 615V616M300.5 615V616M301.5 614V615M302.5 613V614M303.5 612V613M304.5 611V612M305.5 610V611M306.5 609V610M307.5 609V610M308.5 609V610M309.5 609V610M310.5 609V610M311.5 608V609M312.5 608V609M313.5 608V609M314.5 607V608M315.5 606V607M316.5 605V606M317.5 605V606M318.5 604V605M319.5 604V605M320.5 603V604M321.5 603V604M322.5 603V604M323.5 603V604M324.5 603V604M325.5 603V604M326.5 604V606M327.5 606V607M328.5 607V608M329.5 608V609M330.5 609V610M331.5 609V610M332.5 609V610M333.5 609V610M334.5 608V609M335.5 608V609M336.5 607V608M337.5 606V607M338.5 606V607M339.5 605V606M340.5 604V605M341.5 604V605M342.5 605V606M343.5 606V607M344.5 607V608M345.5 608V609M346.5 609V610M347.5 609V610M348.5 610V611M349.5 610V611M350.5 610V611M351.5 610V611M352.5 610V611M353.5 610V611M354.5 610V611M355.5 610V611M356.5 610V611M357.5 610V611M358.5 609V610M359.5 608V609M360.5 607V608M361.5 606V607M362.5 606V607M363.5 605V606M364.5 605V606M365.5 605V606M366.5 606V607M367.5 607V608M368.5 608V610M369.5 610V612M370.5 612V615M371.5 615V619M372.5 619V621M373.5 621V622M374.5 620V621M375.5 618V620M376.5 617V618M377.5 616V617M378.5 616V617M379.5 616V617M380.5 617V618M381.5 616V617M382.5 616V617M383.5 615V616M384.5 614V615M385.5 613V614M386.5 614V615M387.5 614V615M388.5 615V616M389.5 616V617M390.5 616V617M391.5 615V616M392.5 615V616M393.5 615V616M394.5 615V616M395.5 615V616M396.5 616V617M397.5 616V618M398.5 618V620M399.5 620V622M400.5 622V623M401.5 623V624M402.5 624V625M403.5 624V625M404.5 624V625M405.5 624V625M406.5 623V624M407.5 622V623M408.5 621V622M409.5 621V622M410.5 621V622M411.5 621V622M412.5 621V622M413.5 622V623M414.5 622V623M415.5 622V623M416.5 622V623M417.5 623V626M418.5 626V630M419.5 630V634M420.5 634V637M421.5 637V638M422.5 638V639M423.5 638V639M424.5 639V640M425.5 639V640M426.5 639V640M427.5 639V640M428.5 639V640M429.5 638V639M430.5 637V638M431.5 636V637M432.5 635V636M433.5 634V635M434.5 634V635M435.5 634V635M436.5 634V635M437.5 633V634M438.5 632V633M439.5 631V632M440.5 630V631M441.5 629V630M442.5 629V630M443.5 630V631M444.5 630V631M445.5 630V631M446.5 630V631M447.5 630V631M448.5 629V630M449.5 629V630M450.5 629V630M451.5 629V630M452.5 629V630M453.5 630V631M454.5 629V630M455.5 629V630M456.5 629V630M457.5 629V630M458.5 629V630M459.5 630V631M460.5 630V631M461.5 631V632M462.5 632V633M463.5 633V634M464.5 634V635M465.5 634V636M466.5 634V635M467.5 634V635M468.5 634V635M469.5 634V635M470.5 634V635M471.5 634V635M472.5 635V636M473.5 634V635M474.5 634V635M475.5 633V634M476.5 632V633M477.5 631V632M478.5 631V632M479.5 631V632M480.5 632V633M481.5 632V633M482.5 632V633M483.5 633V634M484.5 633V634M485.5 634V635M486.5 635V636M487.5 635V636M488.5 636V637M489.5 636V637M490.5 634V636M491.5 633V634M492.5 631V633M493.5 630V631M494.5 629V630M495.5 628V629M496.5 628V629M497.5 627V628M498.5 626V627M499.5 626V627M500.5 625V626M501.5 625V626M502.5 625V626M503.5 626V627M504.5 626V627M505.5 627V628M506.5 628V629M507.5 629V630M508.5 630V631M509.5 630V631M510.5 630V631M511.5 630V631M512.5 629V630M513.5 629V630M514.5 629V630M515.5 629V630M516.5 629V630M517.5 630V631M518.5 630V631M519.5 630V631M520.5 630V631M521.5 630V631M522.5 630V631M523.5 630V631M524.5 630V631M525.5 630V631M526.5 630V631M527.5 630V631M528.5 630V631M529.5 630V631M530.5 630V631M531.5 631V632M532.5 632V633M533.5 632V633M534.5 632V633M535.5 631V632M536.5 630V631M537.5 629V630M538.5 629V630M539.5 630V631M540.5 631V632M541.5 632V633M542.5 632V633M543.5 632V633M544.5 632V634M545.5 632V633M546.5 632V633M547.5 631V632M548.5 631V632M549.5 629V631M550.5 628V629M551.5 626V628M552.5 624V626M553.5 623V624M554.5 622V623M555.5 622V623M556.5 621V622M557.5 620V621M558.5 621V622M559.5 621V622M560.5 622V623M561.5 621V622M562.5 618V621M563.5 615V618M564.5 614V615M565.5 613V614M566.5 612V613M567.5 613V614M568.5 614V615M569.5 614V615M570.5 615V616M571.5 615V616M572.5 615V616M573.5 616V617M574.5 615V616M575.5 615V616M576.5 614V615M577.5 614V615M578.5 614V615M579.5 615V616M580.5 615V616M581.5 616V617M582.5 617V618M583.5 617V618M584.5 618V619M585.5 619V620M586.5 619V620M587.5 619V620M588.5 619V620M589.5 620V621M590.5 621V623M591.5 623V625M592.5 625V627M593.5 627V628M594.5 628V629M595.5 628V629M596.5 628V629M597.5 629V630M598.5 629V630M599.5 629V630M600.5 629V630M601.5 630V631M602.5 630V631M603.5 631V632M604.5 631V632M605.5 631V632M606.5 631V632M607.5 630V631M608.5 630V631M609.5 629V630M610.5 629V630M611.5 629V630M612.5 630V631M613.5 628V630M614.5 625V628M615.5 623V625M616.5 621V623M617.5 620V621M618.5 619V620M619.5 619V620M620.5 619V620M621.5 619V620M622.5 620V621M623.5 620V621M624.5 621V622M625.5 622V623M626.5 623V625M627.5 625V627M628.5 627V628M629.5 628V629M630.5 629V630M631.5 629V630M632.5 629V630M633.5 630V631M634.5 630V631M635.5 630V631M636.5 631V632M637.5 631V632M638.5 631V632M639.5 631V632M640.5 631V632M641.5 631V632M642.5 631V632M643.5 630V631M644.5 630V631M645.5 629V630M646.5 627V629M647.5 625V627M648.5 624V625M649.5 623V624M650.5 622V623M651.5 622V623M652.5 621V622M653.5 621V622M654.5 620V621M655.5 620V621M656.5 619V620M657.5 619V620M658.5 618V619M659.5 618V619M660.5 618V619M661.5 617V618M662.5 616V617M663.5 615V616M664.5 614V615M665.5 613V614M666.5 613V614M667.5 613V614M668.5 613V614M669.5 613V614M670.5 613V614M671.5 613V614M672.5 613V614M673.5 613V614M674.5 613V614M675.5 612V613M676.5 612V613M677.5 611V612M678.5 610V611M679.5 608V610M680.5 607V608M681.5 606V607M682.5 605V606M683.5 604V605M684.5 604V605M685.5 604V605M686.5 603V604M687.5 602V603M688.5 602V603M689.5 601V602M690.5 601V602M691.5 600V601M692.5 600V601M693.5 600V601M694.5 601V602M695.5 602V603M696.5 603V605M697.5 605V606M698.5 606V607M699.5 607V608M700.5 608V609M701.5 609V611M702.5 611V612M703.5 612V614M704.5 614V615M705.5 615V616M706.5 615V616M707.5 615V616M708.5 614V615M709.5 614V615M710.5 614V615M711.5 614V615M712.5 615V616M713.5 615V616M714.5 615V616M715.5 616V617M716.5 616V617M717.5 617V618M718.5 617V618M719.5 617V618M720.5 617V618M721.5 617V618M722.5 617V618M723.5 616V617M724.5 615V616M725.5 615V616M726.5 615V616M727.5 615V616M728.5 616V617M729.5 617V618M730.5 618V621M731.5 621V623M732.5 623V625M733.5 625V626M734.5 626V627M735.5 627V628M736.5 628V629M737.5 629V630M738.5 630V631M739.5 630V631M740.5 630V631M741.5 630V631M742.5 630V631M743.5 630V631M744.5 630V631M745.5 630V631M746.5 630V631M747.5 630V631M748.5 631V632M749.5 631V632M750.5 630V631M751.5 629V630M752.5 628V629M753.5 627V628M754.5 627V628M755.5 627V628M756.5 628V629M757.5 628V629M758.5 629V630M759.5 629V630M760.5 630V631M761.5 631V632M762.5 631V632M763.5 631V632M764.5 631V632M765.5 631V632M766.5 631V632M767.5 631V632M768.5 632V633M769.5 632V633M770.5 633V634M771.5 633V634M772.5 634V635M773.5 634V636M774.5 636V638M775.5 638V639M776.5 639V641M777.5 641V642M778.5 642V643M779.5 642V643M780.5 643V644M781.5 644V645M782.5 643V644M783.5 642V643M784.5 641V642M785.5 640V641M786.5 640V641M787.5 640V641M788.5 640V641M789.5 639V640M790.5 638V639M791.5 636V638M792.5 635V636M793.5 634V635M794.5 634V635M795.5 634V635M796.5 634V635M797.5 635V636M798.5 636V637M799.5 637V639M800.5 639V640M801.5 640V641M802.5 639V640M803.5 639V640M804.5 638V639M805.5 637V638M806.5 636V637M807.5 636V637M808.5 635V636M809.5 634V635M810.5 634V635M811.5 633V634M812.5 633V634M813.5 633V634M814.5 633V634M815.5 633V634M816.5 633V634M817.5 633V634M818.5 634V635M819.5 635V636M820.5 636V638M821.5 636V637M822.5 635V637M823.5 634V635M824.5 632V634M825.5 631V632M826.5 630V631M827.5 628V630M828.5 627V628M829.5 626V627M830.5 626V627M831.5 626V627M832.5 626V627M833.5 626V627M834.5 625V626M835.5 624V625M836.5 624V625M837.5 623V624M838.5 623V624M839.5 623V624M840.5 623V624M841.5 622V623M842.5 621V622M843.5 620V621M844.5 619V620M845.5 618V619M846.5 618V619M847.5 617V618M848.5 616V617M849.5 616V617M850.5 616V617M851.5 616V617M852.5 616V617M853.5 616V617M854.5 616V617M855.5 617V618M856.5 617V618M857.5 617V618M858.5 617V618M859.5 617V618M860.5 617V618M861.5 617V618M862.5 618V619M863.5 619V620M864.5 620V622M865.5 622V623M866.5 623V624M867.5 624V625M868.5 625V626M869.5 626V627M870.5 626V627M871.5 625V626M872.5 624V626M873.5 621V624M874.5 617V621M875.5 614V617M876.5 612V614M877.5 611V613M878.5 613V617M879.5 617V622M880.5 622V625M881.5 625V626M882.5 626V627M883.5 626V627M884.5 625V626M885.5 625V626M886.5 624V625M887.5 623V624M888.5 622V623M889.5 621V622M890.5 621V622M891.5 621V622M892.5 622V623M893.5 622V623M894.5 622V623M895.5 621V622M896.5 621V622M897.5 621V622M898.5 622V624M899.5 624V625M900.5 625V626M901.5 626V627M902.5 626V627M903.5 626V627M904.5 625V626M905.5 625V626M906.5 625V626M907.5 625V626M908.5 625V626M909.5 625V626M910.5 623V625M911.5 622V623M912.5 621V622M913.5 620V621M914.5 619V620M915.5 620V621M916.5 620V621M917.5 620V622M918.5 622V623M919.5 623V625M920.5 625V626M921.5 626V627M922.5 627V628M923.5 628V629M924.5 628V629M925.5 629V630" fill="none" stroke="#1e90ff" stroke-width="1" shape-rendering="crispEdges"/>
<g shape-rendering="crispEdges">
<rect x="4" y="25" width="1164" height="1" fill="#000" />
<rect x="4" y="25" width="1" height="637" fill="#000" />
<rect x="1167" y="25" width="1" height="637" fill="#000" />
<rect x="4" y="485" width="1164" height="1" fill="#000" />
<rect x="4" y="487" width="1164" height="1" fill="#000" />
<rect x="4" y="571" width="1164" height="1" fill="#000" />
<rect x="4" y="573" width="1164" height="1" fill="#000" />
<rect x="4" y="661" width="1164" height="1" fill="#000" />
<rect x="5" y="486" width="1162" height="1" fill="#fff" />
<rect x="5" y="572" width="1162" height="1" fill="#fff" />
<rect x="1168" y="53" width="2" height="1" fill="#000" />
<rect x="1168" y="86" width="2" height="1" fill="#000" />
<rect x="1168" y="119" width="2" height="1" fill="#000" />
<rect x="1168" y="152" width="2" height="1" fill="#000" />
<rect x="1168" y="185" width="2" height="1" fill="#000" />
<rect x="1168" y="218" width="2" height="1" fill="#000" />
<rect x="1168" y="251" width="2" height="1" fill="#000" />
<rect x="1168" y="284" width="2" height="1" fill="#000" />
<rect x="1168" y="317" width="2" height="1" fill="#000" />
<rect x="1168" y="350" width="2" height="1" fill="#000" />
<rect x="1168" y="383" width="2" height="1" fill="#000" />
<rect x="1168" y="416" width="2" height="1" fill="#000" />
<rect x="1168" y="449" width="2" height="1" fill="#000" />
<rect x="1168" y="482" width="2" height="1" fill="#000" />
<rect x="1168" y="488" width="1" height="1" fill="#000" />
<rect x="1168" y="525" width="1" height="1" fill="#000" />
<rect x="1168" y="570" width="1" height="1" fill="#000" />
<rect x="1168" y="574" width="1" height="1" fill="#000" />
<rect x="1168" y="600" width="1" height="1" fill="#000" />
<rect x="1168" y="635" width="1" height="1" fill="#000" />
<rect x="1168" y="660" width="1" height="1" fill="#000" />
<rect x="5" y="662" width="1" height="3" fill="#000" />
<rect x="69" y="662" width="1" height="3" fill="#000" />
<rect x="133" y="662" width="1" height="3" fill="#000" />
<rect x="197" y="662" width="1" height="3" fill="#000" />
<rect x="261" y="662" width="1" height="3" fill="#000" />
<rect x="325" y="662" width="1" height="3" fill="#000" />
<rect x="389" y="662" width="1" height="3" fill="#000" />
<rect x="453" y="662" width="1" height="3" fill="#000" />
<rect x="517" y="662" width="1" height="3" fill="#000" />
<rect x="581" y="662" width="1" height="3" fill="#000" />
<rect x="645" y="662" width="1" height="3" fill="#000" />
<rect x="709" y="662" width="1" height="3" fill="#000" />
<rect x="773" y="662" width="1" height="3" fill="#000" />
<rect x="837" y="662" width="1" height="3" fill="#000" />
<rect x="901" y="662" width="1" height="3" fill="#000" />
<rect x="4" y="295" width="6" height="6" fill="#ff0000" />
<rect x="6" y="297" width="2" height="2" fill="#fff" />
<rect x="1161" y="295" width="6" height="6" fill="#ff0000" />
<rect x="1163" y="297" width="2" height="2" fill="#fff" />
<rect x="4" y="349" width="6" height="6" fill="#00ff00" />
<rect x="6" y="351" width="2" height="2" fill="#fff" />
<rect x="1161" y="349" width="6" height="6" fill="#00ff00" />
<rect x="1163" y="351" width="2" height="2" fill="#fff" />
<text x="1173" y="57" font-size="10" fill="#000" textLength="33" lengthAdjust="spacingAndGlyphs" >1.22560</text>
<text x="1173" y="90" font-size="10" fill="#000" textLength="33" lengthAdjust="spacingAndGlyphs" >1.21960</text>
<text x="1173" y="123" font-size="10" fill="#000" textLength="33" lengthAdjust="spacingAndGlyphs" >1.21345</text>
<text x="1173" y="156" font-size="10" fill="#000" textLength="33" lengthAdjust="spacingAndGlyphs" >1.20730</text>
<text x="1173" y="189" font-size="10" fill="#000" textLength="33" lengthAdjust="spacingAndGlyphs" >1.20115</text>
<text x="1173" y="222" font-size="10" fill="#000" textLength="33" lengthAdjust="spacingAndGlyphs" >1.19500</text>
<text x="1173" y="255" font-size="10" fill="#000" textLength="33" lengthAdjust="spacingAndGlyphs" >1.18885</text>
<text x="1173" y="288" font-size="10" fill="#000" textLength="33" lengthAdjust="spacingAndGlyphs" >1.18270</text>
<text x="1173" y="321" font-size="10" fill="#000" textLength="33" lengthAdjust="spacingAndGlyphs" >1.17655</text>
<text x="1173" y="354" font-size="10" fill="#000" textLength="33" lengthAdjust="spacingAndGlyphs" >1.17040</text>
<text x="1173" y="387" font-size="10" fill="#000" textLength="33" lengthAdjust="spacingAndGlyphs" >1.16440</text>
<text x="1173" y="420" font-size="10" fill="#000" textLength="33" lengthAdjust="spacingAndGlyphs" >1.15825</text>
<text x="1173" y="453" font-size="10" fill="#000" textLength="33" lengthAdjust="spacingAndGlyphs" >1.15210</text>
<text x="1173" y="486" font-size="10" fill="#000" textLength="33" lengthAdjust="spacingAndGlyphs" >1.14595</text>
<rect x="1169" y="239" width="40" height="11" fill="#ff0000" />
<rect x="1169" y="292" width="40" height="11" fill="#ff0000" />
<rect x="1169" y="346" width="40" height="11" fill="#00ff00" />
<rect x="1169" y="400" width="40" height="11" fill="#0000ff" />
<rect x="1169" y="464" width="40" height="11" fill="#000" />
</g>
<text x="1173" y="247.5" font-size="10" fill="#fff" textLength="33" lengthAdjust="spacingAndGlyphs" >1.18998</text>
<text x="1173" y="300.5" font-size="10" fill="#fff" textLength="33" lengthAdjust="spacingAndGlyphs" >1.18024</text>
<text x="1173" y="354.5" font-size="10" fill="#fff" textLength="33" lengthAdjust="spacingAndGlyphs" >1.17010</text>
<text x="1173" y="408.5" font-size="10" fill="#fff" textLength="33" lengthAdjust="spacingAndGlyphs" >1.16007</text>
<text x="1173" y="472.5" font-size="10" fill="#fff" textLength="33" lengthAdjust="spacingAndGlyphs" >1.14841</text>
<text x="1171" y="498.2" font-size="10" fill="#000" textLength="38" lengthAdjust="spacingAndGlyphs" >0.006193</text>
<text x="1171" y="528.8" font-size="10" fill="#000" textLength="18" lengthAdjust="spacingAndGlyphs" >0.00</text>
<text x="1171" y="568.2" font-size="10" fill="#000" textLength="41.5" lengthAdjust="spacingAndGlyphs" >-0.007621</text>
<text x="1171" y="584.3" font-size="10" fill="#000" textLength="15" lengthAdjust="spacingAndGlyphs" >100</text>
<text x="1171" y="603.6" font-size="10" fill="#000" textLength="10" lengthAdjust="spacingAndGlyphs" >70</text>
<text x="1171" y="639" font-size="10" fill="#000" textLength="10" lengthAdjust="spacingAndGlyphs" >30</text>
<text x="1171" y="658.2" font-size="10" fill="#000" textLength="5" lengthAdjust="spacingAndGlyphs" >0</text>
<text x="4" y="674.3" font-size="10" fill="#000" textLength="51.5" lengthAdjust="spacingAndGlyphs" >16 Feb 2021</text>
<text x="68" y="674.3" font-size="10" fill="#000" textLength="46.5" lengthAdjust="spacingAndGlyphs" >6 Mar 2021</text>
<text x="132" y="674.3" font-size="10" fill="#000" textLength="51.5" lengthAdjust="spacingAndGlyphs" >25 Mar 2021</text>
<text x="196" y="674.3" font-size="10" fill="#000" textLength="50.5" lengthAdjust="spacingAndGlyphs" >13 Apr 2021</text>
<text x="260" y="674.3" font-size="10" fill="#000" textLength="48.5" lengthAdjust="spacingAndGlyphs" >1 May 2021</text>
<text x="324" y="674.3" font-size="10" fill="#000" textLength="53.5" lengthAdjust="spacingAndGlyphs" >20 May 2021</text>
<text x="388" y="674.3" font-size="10" fill="#000" textLength="45.5" lengthAdjust="spacingAndGlyphs" >8 Jun 2021</text>
<text x="452" y="674.3" font-size="10" fill="#000" textLength="50.5" lengthAdjust="spacingAndGlyphs" >26 Jun 2021</text>
<text x="516" y="674.3" font-size="10" fill="#000" textLength="47.5" lengthAdjust="spacingAndGlyphs" >15 Jul 2021</text>
<text x="580" y="674.3" font-size="10" fill="#000" textLength="47.5" lengthAdjust="spacingAndGlyphs" >3 Aug 2021</text>
<text x="644" y="674.3" font-size="10" fill="#000" textLength="52.5" lengthAdjust="spacingAndGlyphs" >21 Aug 2021</text>
<text x="708" y="674.3" font-size="10" fill="#000" textLength="46.5" lengthAdjust="spacingAndGlyphs" >9 Sep 2021</text>
<text x="772" y="674.3" font-size="10" fill="#000" textLength="51.5" lengthAdjust="spacingAndGlyphs" >28 Sep 2021</text>
<text x="836" y="674.3" font-size="10" fill="#000" textLength="50.5" lengthAdjust="spacingAndGlyphs" >16 Oct 2021</text>
<text x="900" y="674.3" font-size="10" fill="#000" textLength="47.5" lengthAdjust="spacingAndGlyphs" >4 Nov 2021</text>
<path d="M8 36.5 L11.5 32 L15 36.5 Z" fill="#000"/>
<text x="20" y="37" font-size="10" fill="#000" textLength="64" lengthAdjust="spacingAndGlyphs" >EURUSD,Daily</text>
<text x="90" y="37" font-size="10" fill="#000" textLength="141" lengthAdjust="spacingAndGlyphs" >1.15178 1.15337 1.14751 1.14841</text>
<text x="9" y="499.7" font-size="10" fill="#000" textLength="154" lengthAdjust="spacingAndGlyphs" >MACD(12,26,9) -0.002650 -0.002012</text>
<text x="9" y="585.6" font-size="10" fill="#000" textLength="68" lengthAdjust="spacingAndGlyphs" >RSI(14) 35.2485</text>
<defs>
<linearGradient id="gs" x1="0" y1="0" x2="0" y2="1"><stop offset="0" stop-color="#f85050"/><stop offset="1" stop-color="#d82c2c"/></linearGradient>
<linearGradient id="gp" x1="0" y1="0" x2="0" y2="1"><stop offset="0" stop-color="#d42424"/><stop offset="0.5" stop-color="#c01414"/><stop offset="1" stop-color="#a80000"/></linearGradient>
<linearGradient id="gb" x1="0" y1="0" x2="0" y2="1"><stop offset="0" stop-color="#f4f4f4"/><stop offset="0.45" stop-color="#e4e4e4"/><stop offset="0.5" stop-color="#d0d0d0"/><stop offset="1" stop-color="#c8c8c8"/></linearGradient>
<linearGradient id="gp2" gradientUnits="userSpaceOnUse" x1="0" y1="69" x2="0" y2="102"><stop offset="0" stop-color="#d42424"/><stop offset="0.5" stop-color="#c01414"/><stop offset="1" stop-color="#a80000"/></linearGradient>
</defs>
<rect x="8" y="44" width="219" height="60" fill="#fff" />
<rect x="8" y="45" width="52" height="24" fill="url(#gs)" />
<rect x="175" y="45" width="52" height="24" fill="url(#gs)" />
<rect x="8" y="69" width="109" height="33" fill="url(#gp)" />
<rect x="119" y="69" width="108" height="33" fill="url(#gp)" />
<rect x="8" y="45" width="52" height="1" fill="#e03030" />
<rect x="175" y="45" width="52" height="1" fill="#e03030" />
<rect x="12" y="68" width="44" height="1" fill="#a81010" />
<rect x="179" y="68" width="44" height="1" fill="#a81010" />
<rect x="12" y="69" width="44" height="1" fill="#f08888" />
<rect x="179" y="69" width="44" height="1" fill="#f08888" />
<rect x="8" y="45" width="1" height="57" fill="#c82424" />
<rect x="119" y="69" width="1" height="33" fill="#c02020" />
<rect x="175" y="45" width="1" height="24" fill="#d83030" />
<rect x="8" y="101" width="109" height="1" fill="#a00000" />
<rect x="119" y="101" width="108" height="1" fill="#a00000" />
<rect x="59" y="45" width="1" height="24" fill="#c41818" />
<rect x="60" y="68" width="57" height="1" fill="#b40808" />
<rect x="119" y="68" width="56" height="1" fill="#b40808" />
<rect x="226" y="45" width="1" height="57" fill="#b81010" />
<rect x="116" y="69" width="1" height="33" fill="#b00808" />
<rect x="60" y="45" width="115" height="24" fill="#fff" />
<rect x="62.5" y="45.5" width="110" height="21" fill="#fff" stroke="#b0b0b8" stroke-width="1.2"/>
<rect x="64" y="47" width="18" height="18" fill="url(#gb)" stroke="#c8c8c8" stroke-width="0.6"/>
<rect x="153" y="47" width="18" height="18" fill="url(#gb)" stroke="#c8c8c8" stroke-width="0.6"/>
<rect x="82.5" y="46" width="1" height="20" fill="#c0c0c0" />
<rect x="152" y="46" width="1" height="20" fill="#c0c0c0" />
<path d="M70.5 54.5 L75.5 54.5 L73 57.5 Z" fill="#4060c0"/>
<path d="M159.5 57.5 L164.5 57.5 L162 54.5 Z" fill="#4060c0"/>
<text x="123.5" y="60" font-size="12.5" fill="#000" textLength="24.5" lengthAdjust="spacingAndGlyphs" >3.00</text>
<text x="20" y="61" font-size="12" fill="#ffe8e8" textLength="26.5" lengthAdjust="spacingAndGlyphs" >SELL</text>
<text x="188" y="61" font-size="12" fill="#ffe8e8" textLength="24" lengthAdjust="spacingAndGlyphs" >BUY</text>
<text x="27.5" y="97" font-size="12" fill="#fff" textLength="24.5" lengthAdjust="spacingAndGlyphs" font-weight="bold" >1.14</text>
<text x="137.5" y="97" font-size="12" fill="#fff" textLength="24.5" lengthAdjust="spacingAndGlyphs" font-weight="bold" >1.14</text>
<text x="55" y="97.3" font-size="31.5" fill="#fff" textLength="36" lengthAdjust="spacingAndGlyphs" stroke="url(#gp2)" stroke-width="0.7">84</text>
<text x="166" y="97.3" font-size="31.5" fill="#fff" textLength="35" lengthAdjust="spacingAndGlyphs" stroke="url(#gp2)" stroke-width="0.7">85</text>
<text x="94.3" y="81" font-size="12" fill="#fff" textLength="8" lengthAdjust="spacingAndGlyphs" font-weight="bold" >4</text>
<text x="205.5" y="81" font-size="12" fill="#fff" textLength="7.5" lengthAdjust="spacingAndGlyphs" font-weight="bold" >8</text>
</svg>
</div>
</body></html>
